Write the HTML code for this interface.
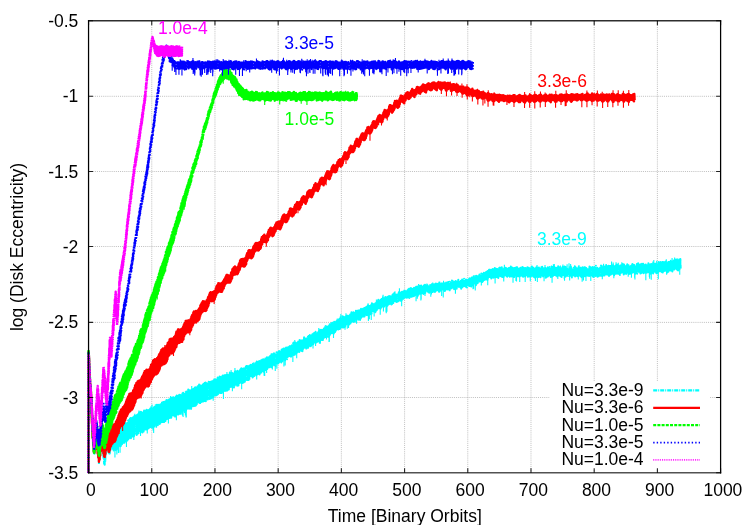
<!DOCTYPE html>
<html><head><meta charset="utf-8"><title>Disk Eccentricity</title>
<style>html,body{margin:0;padding:0;background:#fff;width:750px;height:525px;overflow:hidden;font-family:"Liberation Sans",sans-serif}</style>
</head><body>
<svg width="750" height="525" viewBox="0 0 750 525" style="position:absolute;left:0;top:0;will-change:transform">
<rect width="750" height="525" fill="#fff"/>
<path d="M151.75 20.75V472.80M214.96 20.75V472.80M278.17 20.75V472.80M341.37 20.75V472.80M404.58 20.75V472.80M467.78 20.75V472.80M530.99 20.75V472.80M594.19 20.75V472.80M657.40 20.75V472.80M88.55 96.30H720.60M88.55 171.50H720.60M88.55 246.50H720.60M88.55 322.40H720.60M88.55 397.50H720.60" stroke="#909090" stroke-width="1" stroke-dasharray="1 1.1" fill="none" opacity="0.58"/>
<g fill="none" stroke-linejoin="round" stroke-linecap="butt" clip-path="url(#cp)">
<clipPath id="cp"><rect x="86.5" y="20.8" width="635.1" height="452.1"/></clipPath>
<path d="M88.45 476.00L88.55 353.00L89.02 358.75L89.34 367.36L89.66 371.91L89.98 382.78L90.30 383.19L90.62 395.01L90.94 391.40L91.26 405.18L91.58 400.99L91.90 421.37L92.22 413.57L92.54 435.49L92.86 423.97L93.18 445.43L93.50 432.13L93.82 453.22L94.14 436.86L94.46 453.66L94.78 435.24L95.10 450.60L95.42 431.60L95.74 448.51L96.06 429.00L96.38 445.72L96.70 428.52L97.02 449.00L97.34 432.59L97.66 452.31L97.98 438.57L98.30 458.22L98.62 443.88L98.94 464.33L99.26 443.68L99.58 460.50L99.90 439.69L100.22 455.82L100.54 435.96L100.86 450.84L101.18 431.27L101.50 448.02L101.82 430.89L102.14 450.95L102.46 434.76L102.78 453.53L103.10 437.87L103.42 458.90L103.74 442.20L104.06 463.71L104.38 447.48L104.70 464.76L105.02 443.60L105.34 461.07L105.66 439.48L105.98 454.43L106.30 435.19L106.62 450.42L106.94 429.42L107.26 448.61L107.58 431.12L107.90 451.00L108.22 432.76L108.54 452.57L108.86 436.50L109.18 453.52L109.50 435.74L109.82 453.41L110.14 433.13L110.46 449.88L110.78 432.68L111.10 448.09L111.42 430.25L111.74 448.51L112.06 431.19L112.38 448.66L112.70 431.60L113.02 448.86L113.34 430.89L113.66 450.38L113.98 431.62L114.30 450.75L114.62 431.76L114.94 449.03L115.26 432.25L115.58 449.90L115.90 432.39L116.22 448.74L116.54 430.61L116.86 449.42L117.18 430.58L117.50 447.98L117.82 429.75L118.14 445.88L118.46 429.19L118.78 445.46L119.10 428.76L119.42 444.92L119.74 426.84L120.06 446.30L120.38 426.85L120.70 446.34L121.02 427.15L121.34 444.77L121.66 428.14L121.98 444.35L122.30 426.31L122.62 444.33L122.94 425.67L123.26 441.93L123.58 423.87L123.90 442.76L124.22 423.23L124.54 442.65L124.86 424.35L125.18 441.17L125.50 422.73L125.82 441.36L126.14 423.44L126.46 440.88L126.78 423.41L127.10 441.61L127.42 422.95L127.74 439.63L128.06 420.42L128.38 439.14L128.70 421.10L129.02 438.19L129.34 419.63L129.66 437.83L129.98 418.54L130.30 436.39L130.62 419.56L130.94 438.26L131.26 418.39L131.58 436.32L131.90 418.12L132.22 436.62L132.54 418.68L132.86 435.79L133.18 417.14L133.50 436.43L133.82 417.87L134.14 435.86L134.46 416.09L134.78 433.85L135.10 415.93L135.42 433.55L135.74 416.18L136.06 433.51L136.38 415.36L136.70 434.98L137.02 416.57L137.34 434.00L137.66 414.49L137.98 433.25L138.30 414.00L138.62 433.28L138.94 412.99L139.26 432.25L139.58 412.32L139.90 431.90L140.22 412.73L140.54 431.44L140.86 411.83L141.18 430.97L141.50 412.11L141.82 432.06L142.14 413.16L142.46 432.42L142.78 412.87L143.10 431.12L143.42 412.22L143.74 431.39L144.06 410.45L144.38 429.29L144.70 410.78L145.02 428.45L145.34 409.28L145.66 429.51L145.98 409.86L146.30 429.45L146.62 409.72L146.94 429.53L147.26 411.42L147.58 428.52L147.90 410.29L148.22 428.60L148.54 410.57L148.86 427.99L149.18 409.79L149.50 427.76L149.82 409.16L150.14 427.15L150.46 407.55L150.78 426.45L151.10 407.16L151.42 426.83L151.74 407.98L152.06 427.79L152.38 409.23L152.70 427.29L153.02 408.75L153.34 426.57L153.66 407.40L153.98 426.49L154.30 407.09L154.62 426.39L154.94 406.83L155.26 425.05L155.58 405.33L155.90 424.35L156.22 405.07L156.54 424.14L156.86 404.69L157.18 424.96L157.50 406.35L157.82 425.30L158.14 404.72L158.46 423.22L158.78 404.98L159.10 422.77L159.42 404.50L159.74 424.00L160.06 404.50L160.38 423.05L160.70 404.35L161.02 421.72L161.34 403.00L161.66 422.08L161.98 402.57L162.30 420.97L162.62 402.25L162.94 421.89L163.26 402.10L163.58 420.63L163.90 402.61L164.22 422.10L164.54 401.70L164.86 420.72L165.18 401.66L165.50 420.96L165.82 401.14L166.14 419.57L166.46 400.00L166.78 418.72L167.10 399.42L167.42 419.91L167.74 400.35L168.06 418.21L168.38 399.69L168.70 419.39L169.02 400.77L169.34 417.93L169.66 399.22L169.98 417.79L170.30 398.82L170.62 418.35L170.94 398.04L171.26 417.80L171.58 398.33L171.90 415.75L172.22 397.59L172.54 416.42L172.86 397.73L173.18 415.52L173.50 397.19L173.82 415.47L174.14 397.03L174.46 415.99L174.78 398.63L175.10 416.61L175.42 396.39L175.74 414.73L176.06 395.60L176.38 414.05L176.70 395.44L177.02 414.04L177.34 395.03L177.66 414.45L177.98 395.72L178.30 414.51L178.62 395.53L178.94 413.92L179.26 394.84L179.58 414.57L179.90 395.97L180.22 413.70L180.54 395.04L180.86 413.86L181.18 394.55L181.50 411.89L181.82 394.14L182.14 410.57L182.46 392.25L182.78 410.18L183.10 392.63L183.42 411.19L183.74 393.71L184.06 411.49L184.38 393.98L184.70 412.29L185.02 394.09L185.34 411.56L185.66 391.91L185.98 410.48L186.30 391.50L186.62 409.78L186.94 392.15L187.26 408.61L187.58 391.46L187.90 409.61L188.22 389.46L188.54 408.38L188.86 391.10L189.18 408.74L189.50 390.17L189.82 409.68L190.14 390.56L190.46 408.22L190.78 389.23L191.10 408.87L191.42 389.88L191.74 407.46L192.06 389.80L192.38 406.31L192.70 389.35L193.02 406.24L193.34 387.80L193.66 405.60L193.98 388.84L194.30 406.10L194.62 387.76L194.94 406.19L195.26 387.13L195.58 405.73L195.90 387.86L196.22 404.87L196.54 387.69L196.86 405.05L197.18 387.12L197.50 404.09L197.82 385.54L198.14 402.52L198.46 385.65L198.78 402.14L199.10 384.42L199.42 402.21L199.74 386.38L200.06 404.32L200.38 385.46L200.70 403.42L201.02 385.62L201.34 403.03L201.66 384.18L201.98 401.69L202.30 384.53L202.62 401.10L202.94 384.61L203.26 401.39L203.58 383.80L203.90 400.07L204.22 383.15L204.54 400.89L204.86 382.67L205.18 401.07L205.50 382.56L205.82 401.19L206.14 383.22L206.46 399.73L206.78 383.18L207.10 398.82L207.42 382.24L207.74 399.55L208.06 381.94L208.38 398.85L208.70 381.68L209.02 398.86L209.34 381.94L209.66 398.93L209.98 382.02L210.30 397.09L210.62 381.53L210.94 398.60L211.26 381.56L211.58 397.12L211.90 381.45L212.22 397.77L212.54 381.54L212.86 396.15L213.18 380.85L213.50 396.77L213.82 379.10L214.14 394.97L214.46 378.31L214.78 394.47L215.10 379.19L215.42 395.58L215.74 379.93L216.06 394.68L216.38 380.15L216.70 395.32L217.02 379.23L217.34 395.37L217.66 377.59L217.98 394.30L218.30 378.53L218.62 393.26L218.94 378.11L219.26 392.35L219.58 376.48L219.90 393.10L220.22 376.73L220.54 393.06L220.86 377.92L221.18 393.86L221.50 377.61L221.82 392.95L222.14 376.28L222.46 391.88L222.78 375.62L223.10 391.87L223.42 376.93L223.74 392.14L224.06 376.16L224.38 390.59L224.70 374.01L225.02 390.99L225.34 375.45L225.66 390.61L225.98 374.95L226.30 390.10L226.62 375.75L226.94 390.79L227.26 374.76L227.58 390.49L227.90 374.05L228.22 389.77L228.54 375.44L228.86 389.48L229.18 374.42L229.50 387.22L229.82 372.48L230.14 386.92L230.46 374.20L230.78 386.51L231.10 373.11L231.42 386.68L231.74 372.75L232.06 387.60L232.38 373.03L232.70 387.16L233.02 373.57L233.34 386.92L233.66 373.55L233.98 387.57L234.30 373.03L234.62 385.81L234.94 370.91L235.26 385.69L235.58 371.22L235.90 383.83L236.22 371.46L236.54 383.90L236.86 371.45L237.18 385.77L237.50 370.69L237.82 385.30L238.14 371.93L238.46 385.42L238.78 371.50L239.10 383.05L239.42 371.08L239.74 382.95L240.06 369.96L240.38 382.04L240.70 369.07L241.02 382.47L241.34 368.31L241.66 383.05L241.98 369.22L242.30 382.89L242.62 369.68L242.94 382.69L243.26 368.54L243.58 382.42L243.90 369.15L244.22 380.75L244.54 367.32L244.86 381.80L245.18 368.03L245.50 379.20L245.82 366.46L246.14 379.05L246.46 366.04L246.78 380.05L247.10 365.96L247.42 380.08L247.74 367.38L248.06 379.19L248.38 366.22L248.70 379.98L249.02 367.62L249.34 379.94L249.66 365.48L249.98 377.15L250.30 365.81L250.62 377.27L250.94 364.83L251.26 376.03L251.58 365.39L251.90 375.65L252.22 365.38L252.54 377.50L252.86 363.74L253.18 376.65L253.50 364.10L253.82 376.40L254.14 365.00L254.46 376.06L254.78 363.37L255.10 375.29L255.42 363.31L255.74 374.85L256.06 363.13L256.38 375.03L256.70 361.40L257.02 374.06L257.34 361.10L257.66 374.29L257.98 362.27L258.30 373.23L258.62 361.45L258.94 373.71L259.26 361.03L259.58 374.55L259.90 362.44L260.22 372.90L260.54 360.98L260.86 371.81L261.18 360.36L261.50 372.39L261.82 360.25L262.14 371.15L262.46 359.46L262.78 370.75L263.10 359.43L263.42 370.26L263.74 359.25L264.06 371.99L264.38 360.19L264.70 369.94L265.02 358.79L265.34 370.83L265.66 357.37L265.98 369.91L266.30 358.26L266.62 369.83L266.94 357.28L267.26 368.90L267.58 357.41L267.90 367.60L268.22 357.62L268.54 367.19L268.86 356.06L269.18 367.36L269.50 355.84L269.82 368.01L270.14 355.89L270.46 366.89L270.78 355.18L271.10 367.34L271.42 354.21L271.74 367.17L272.06 353.82L272.38 366.08L272.70 353.13L273.02 364.74L273.34 354.63L273.66 364.60L273.98 353.30L274.30 365.09L274.62 353.94L274.94 365.14L275.26 354.58L275.58 365.92L275.90 354.27L276.22 364.93L276.54 352.25L276.86 363.57L277.18 352.83L277.50 362.69L277.82 351.89L278.14 363.40L278.46 351.84L278.78 362.83L279.10 350.90L279.42 362.05L279.74 352.37L280.06 362.64L280.38 350.71L280.70 361.26L281.02 351.16L281.34 362.57L281.66 349.53L281.98 361.48L282.30 349.37L282.62 361.08L282.94 348.51L283.26 360.30L283.58 348.41L283.90 359.24L284.22 349.32L284.54 360.38L284.86 348.32L285.18 360.23L285.50 348.00L285.82 359.56L286.14 347.62L286.46 358.53L286.78 348.86L287.10 359.28L287.42 347.45L287.74 357.64L288.06 346.20L288.38 356.55L288.70 346.90L289.02 357.28L289.34 346.62L289.66 356.63L289.98 346.01L290.30 355.99L290.62 346.19L290.94 357.44L291.26 345.15L291.58 356.20L291.90 345.31L292.22 354.60L292.54 343.74L292.86 354.29L293.18 343.10L293.50 355.05L293.82 342.60L294.14 354.36L294.46 343.50L294.78 354.68L295.10 342.69L295.42 353.24L295.74 343.21L296.06 353.44L296.38 344.07L296.70 353.85L297.02 342.86L297.34 352.80L297.66 343.46L297.98 351.63L298.30 340.65L298.62 352.08L298.94 341.94L299.26 351.97L299.58 339.91L299.90 351.93L300.22 341.12L300.54 351.07L300.86 340.56L301.18 351.53L301.50 339.97L301.82 351.00L302.14 340.34L302.46 351.25L302.78 339.57L303.10 348.87L303.42 339.76L303.74 349.17L304.06 337.78L304.38 347.57L304.70 338.54L305.02 348.70L305.34 338.41L305.66 348.68L305.98 338.99L306.30 348.61L306.62 337.97L306.94 347.70L307.26 337.71L307.58 346.86L307.90 336.85L308.22 347.77L308.54 335.97L308.86 346.23L309.18 336.37L309.50 346.03L309.82 335.03L310.14 345.77L310.46 334.51L310.78 346.29L311.10 334.99L311.42 346.09L311.74 335.23L312.06 345.59L312.38 334.25L312.70 344.09L313.02 335.01L313.34 343.94L313.66 333.25L313.98 342.69L314.30 333.23L314.62 342.16L314.94 332.86L315.26 342.09L315.58 331.80L315.90 342.79L316.22 332.58L316.54 341.78L316.86 333.67L317.18 342.96L317.50 332.91L317.82 341.20L318.14 332.31L318.46 340.73L318.78 331.23L319.10 341.24L319.42 330.91L319.74 340.83L320.06 329.78L320.38 338.93L320.70 329.63L321.02 339.74L321.34 328.89L321.66 340.03L321.98 329.77L322.30 338.73L322.62 330.46L322.94 340.02L323.26 330.01L323.58 338.11L323.90 328.55L324.22 338.24L324.54 328.62L324.86 337.30L325.18 326.52L325.50 337.30L325.82 325.92L326.14 336.93L326.46 327.50L326.78 335.90L327.10 326.93L327.42 336.03L327.74 326.57L328.06 336.96L328.38 326.20L328.70 336.50L329.02 325.78L329.34 335.74L329.66 324.33L329.98 334.84L330.30 324.40L330.62 332.73L330.94 324.03L331.26 332.42L331.58 322.90L331.90 333.36L332.22 322.67L332.54 333.87L332.86 323.16L333.18 332.66L333.50 323.73L333.82 333.42L334.14 321.73L334.46 331.59L334.78 322.92L335.10 331.89L335.42 322.16L335.74 330.66L336.06 321.51L336.38 329.63L336.70 320.93L337.02 329.36L337.34 319.45L337.66 330.22L337.98 320.60L338.30 329.43L338.62 321.03L338.94 329.02L339.26 318.94L339.58 329.03L339.90 318.68L340.22 328.76L340.54 317.13L340.86 327.16L341.18 318.56L341.50 326.36L341.82 318.16L342.14 327.15L342.46 316.37L342.78 327.39L343.10 316.50L343.42 327.46L343.74 316.81L344.06 326.54L344.38 316.35L344.70 327.01L345.02 316.71L345.34 325.88L345.66 315.89L345.98 325.17L346.30 315.98L346.62 324.35L346.94 315.38L347.26 323.87L347.58 315.73L347.90 323.67L348.22 315.92L348.54 324.53L348.86 315.02L349.18 324.53L349.50 314.73L349.82 323.40L350.14 314.50L350.46 323.40L350.78 313.67L351.10 322.03L351.42 312.30L351.74 321.60L352.06 312.55L352.38 321.07L352.70 312.70L353.02 321.66L353.34 312.19L353.66 322.38L353.98 313.41L354.30 321.66L354.62 313.00L354.94 321.49L355.26 312.44L355.58 320.55L355.90 310.67L356.22 319.14L356.54 311.24L356.86 319.55L357.18 310.93L357.50 318.82L357.82 309.15L358.14 319.82L358.46 309.91L358.78 319.14L359.10 310.15L359.42 318.52L359.74 309.48L360.06 319.94L360.38 310.32L360.70 318.57L361.02 308.81L361.34 317.36L361.66 309.32L361.98 317.36L362.30 308.17L362.62 316.41L362.94 308.87L363.26 316.53L363.58 307.47L363.90 316.44L364.22 308.04L364.54 316.45L364.86 307.84L365.18 315.59L365.50 307.44L365.82 315.09L366.14 307.05L366.46 314.88L366.78 306.71L367.10 315.29L367.42 305.27L367.74 313.64L368.06 305.17L368.38 314.06L368.70 304.93L369.02 314.30L369.34 306.47L369.66 312.71L369.98 305.99L370.30 314.17L370.62 306.34L370.94 312.42L371.26 304.78L371.58 313.62L371.90 303.37L372.22 312.60L372.54 303.87L372.86 310.72L373.18 303.98L373.50 310.45L373.82 303.68L374.14 311.42L374.46 303.77L374.78 311.60L375.10 303.57L375.42 312.14L375.74 302.84L376.06 310.79L376.38 302.54L376.70 310.24L377.02 301.74L377.34 309.04L377.66 300.23L377.98 309.52L378.30 299.78L378.62 308.24L378.94 300.40L379.26 307.73L379.58 300.62L379.90 307.98L380.22 301.30L380.54 308.82L380.86 299.82L381.18 307.52L381.50 299.01L381.82 307.52L382.14 299.37L382.46 307.43L382.78 297.96L383.10 306.70L383.42 298.90L383.74 306.19L384.06 297.36L384.38 306.50L384.70 296.89L385.02 306.00L385.34 297.00L385.66 306.60L385.98 298.93L386.30 305.18L386.62 298.66L386.94 306.75L387.26 296.92L387.58 305.48L387.90 296.50L388.22 305.37L388.54 296.32L388.86 304.10L389.18 296.08L389.50 304.75L389.82 295.81L390.14 303.79L390.46 296.29L390.78 303.40L391.10 297.02L391.42 304.48L391.74 296.97L392.06 304.03L392.38 294.92L392.70 302.38L393.02 294.18L393.34 302.97L393.66 294.48L393.98 301.11L394.30 293.02L394.62 300.83L394.94 294.65L395.26 301.23L395.58 294.65L395.90 301.52L396.22 294.69L396.54 301.89L396.86 294.62L397.18 301.82L397.50 294.69L397.82 301.55L398.14 294.23L398.46 300.95L398.78 292.28L399.10 299.72L399.42 292.71L399.74 299.21L400.06 291.93L400.38 300.64L400.70 292.43L401.02 300.26L401.34 292.81L401.66 300.43L401.98 291.86L402.30 299.44L402.62 292.91L402.94 298.86L403.26 291.38L403.58 298.65L403.90 291.29L404.22 297.63L404.54 289.48L404.86 297.56L405.18 291.08L405.50 297.26L405.82 290.12L406.14 297.44L406.46 291.29L406.78 299.04L407.10 290.17L407.42 297.74L407.74 289.88L408.06 297.21L408.38 289.32L408.70 296.84L409.02 288.86L409.34 297.90L409.66 288.68L409.98 296.34L410.30 289.44L410.62 296.76L410.94 288.05L411.26 295.19L411.58 289.15L411.90 296.72L412.22 289.01L412.54 295.57L412.86 289.20L413.18 296.12L413.50 287.87L413.82 296.32L414.14 287.70L414.46 295.54L414.78 287.95L415.10 295.12L415.42 288.16L415.74 294.26L416.06 286.80L416.38 294.44L416.70 288.17L417.02 293.78L417.34 286.53L417.66 296.00L417.98 286.99L418.30 295.48L418.62 287.97L418.94 294.86L419.26 287.38L419.58 294.33L419.90 285.69L420.22 293.85L420.54 286.91L420.86 293.60L421.18 285.62L421.50 293.05L421.82 285.83L422.14 292.47L422.46 286.79L422.78 293.29L423.10 286.45L423.42 293.88L423.74 285.49L424.06 292.94L424.38 285.06L424.70 293.16L425.02 284.87L425.34 292.66L425.66 285.45L425.98 291.12L426.30 284.76L426.62 292.03L426.94 284.53L427.26 291.15L427.58 285.31L427.90 291.80L428.22 286.13L428.54 291.91L428.86 286.46L429.18 292.67L429.50 286.24L429.82 293.12L430.14 285.02L430.46 291.27L430.78 285.28L431.10 291.08L431.42 284.01L431.74 292.01L432.06 283.73L432.38 292.11L432.70 283.57L433.02 291.73L433.34 284.99L433.66 292.73L433.98 285.73L434.30 290.84L434.62 284.29L434.94 292.04L435.26 284.57L435.58 292.10L435.90 283.38L436.22 290.29L436.54 284.00L436.86 290.02L437.18 282.53L437.50 290.09L437.82 284.19L438.14 290.32L438.46 283.61L438.78 291.62L439.10 284.78L439.42 291.69L439.74 283.94L440.06 291.39L440.38 284.30L440.70 289.79L441.02 283.51L441.34 289.14L441.66 283.88L441.98 289.77L442.30 281.97L442.62 289.45L442.94 283.04L443.26 288.87L443.58 283.42L443.90 289.61L444.22 283.20L444.54 291.07L444.86 283.97L445.18 290.81L445.50 282.24L445.82 288.93L446.14 282.52L446.46 289.33L446.78 282.90L447.10 287.83L447.42 282.98L447.74 289.47L448.06 282.01L448.38 289.44L448.70 282.56L449.02 288.73L449.34 281.65L449.66 290.36L449.98 283.45L450.30 289.93L450.62 282.18L450.94 288.59L451.26 282.28L451.58 288.35L451.90 280.62L452.22 287.35L452.54 280.63L452.86 287.51L453.18 281.07L453.50 287.20L453.82 281.98L454.14 289.18L454.46 281.78L454.78 289.01L455.10 282.72L455.42 288.12L455.74 281.08L456.06 288.12L456.38 282.45L456.70 288.80L457.02 281.86L457.34 287.73L457.66 280.73L457.98 286.88L458.30 279.64L458.62 286.97L458.94 281.41L459.26 286.43L459.58 281.02L459.90 287.07L460.22 282.09L460.54 287.48L460.86 280.87L461.18 288.76L461.50 280.41L461.82 286.44L462.14 279.60L462.46 287.27L462.78 280.53L463.10 286.17L463.42 280.51L463.74 285.74L464.06 278.74L464.38 286.07L464.70 279.91L465.02 286.48L465.34 279.32L465.66 286.79L465.98 279.55L466.30 286.47L466.62 279.96L466.94 287.57L467.26 280.00L467.58 285.63L467.90 279.27L468.22 285.30L468.54 279.13L468.86 285.65L469.18 279.25L469.50 285.88L469.82 278.14L470.14 286.02L470.46 279.75L470.78 284.98L471.10 278.30L471.42 286.62L471.74 277.60L472.06 286.30L472.38 278.61L472.70 284.07L473.02 277.19L473.34 284.30L473.66 276.19L473.98 284.48L474.30 276.95L474.62 282.87L474.94 276.15L475.26 283.96L475.58 277.21L475.90 285.17L476.22 275.84L476.54 284.89L476.86 277.62L477.18 283.19L477.50 275.06L477.82 282.86L478.14 274.77L478.46 281.80L478.78 274.96L479.10 281.45L479.42 274.54L479.74 281.52L480.06 274.06L480.38 281.04L480.70 274.89L481.02 281.36L481.34 273.39L481.66 282.07L481.98 273.91L482.30 282.00L482.62 273.43L482.94 281.17L483.26 273.54L483.58 279.90L483.90 272.82L484.22 279.95L484.54 271.86L484.86 278.35L485.18 272.29L485.50 279.62L485.82 272.30L486.14 280.13L486.46 271.83L486.78 279.07L487.10 272.39L487.42 279.84L487.74 270.98L488.06 277.90L488.38 270.94L488.70 277.18L489.02 269.82L489.34 276.89L489.66 269.63L489.98 277.07L490.30 269.03L490.62 277.06L490.94 268.93L491.26 278.53L491.58 268.68L491.90 277.09L492.22 270.61L492.54 277.34L492.86 268.94L493.18 277.71L493.50 269.69L493.82 277.61L494.14 267.85L494.46 276.47L494.78 267.94L495.10 277.20L495.42 268.37L495.74 277.13L496.06 268.64L496.38 277.37L496.70 268.42L497.02 277.01L497.34 269.10L497.66 277.27L497.98 268.78L498.30 278.08L498.62 269.73L498.94 276.56L499.26 267.85L499.58 275.07L499.90 267.54L500.22 275.28L500.54 268.17L500.86 276.28L501.18 268.28L501.50 276.05L501.82 267.30L502.14 276.93L502.46 268.15L502.78 276.75L503.10 269.62L503.42 277.19L503.74 267.84L504.06 275.42L504.38 267.08L504.70 275.42L505.02 267.94L505.34 274.33L505.66 267.65L505.98 274.47L506.30 267.96L506.62 276.31L506.94 268.55L507.26 276.76L507.58 267.92L507.90 276.01L508.22 268.71L508.54 275.85L508.86 268.00L509.18 275.24L509.50 267.98L509.82 276.76L510.14 268.32L510.46 275.98L510.78 266.46L511.10 274.40L511.42 267.49L511.74 276.47L512.06 267.51L512.38 275.78L512.70 268.01L513.02 275.75L513.34 268.23L513.66 277.07L513.98 268.03L514.30 276.97L514.62 267.98L514.94 275.07L515.26 267.88L515.58 276.38L515.90 267.41L516.22 275.40L516.54 267.13L516.86 274.35L517.18 267.20L517.50 276.30L517.82 268.61L518.14 276.31L518.46 269.52L518.78 276.14L519.10 267.65L519.42 276.56L519.74 268.57L520.06 275.42L520.38 267.68L520.70 275.77L521.02 268.42L521.34 274.93L521.66 268.20L521.98 275.59L522.30 266.96L522.62 276.57L522.94 267.26L523.26 276.64L523.58 269.10L523.90 276.55L524.22 267.91L524.54 275.54L524.86 268.13L525.18 276.51L525.50 268.00L525.82 275.19L526.14 268.21L526.46 274.59L526.78 267.46L527.10 275.86L527.42 267.33L527.74 276.73L528.06 268.49L528.38 276.32L528.70 267.65L529.02 276.62L529.34 269.59L529.66 275.93L529.98 268.46L530.30 276.02L530.62 268.73L530.94 276.30L531.26 267.28L531.58 275.25L531.90 266.48L532.22 275.86L532.54 268.34L532.86 275.03L533.18 266.76L533.50 276.69L533.82 268.45L534.14 277.38L534.46 268.46L534.78 277.43L535.10 268.47L535.42 276.52L535.74 269.26L536.06 277.04L536.38 267.20L536.70 275.28L537.02 267.86L537.34 276.04L537.66 266.46L537.98 276.63L538.30 267.07L538.62 277.07L538.94 267.54L539.26 275.96L539.58 269.12L539.90 276.42L540.22 267.67L540.54 277.32L540.86 268.17L541.18 276.54L541.50 266.98L541.82 276.78L542.14 266.73L542.46 274.71L542.78 268.33L543.10 276.46L543.42 267.02L543.74 276.21L544.06 268.83L544.38 275.16L544.70 268.92L545.02 275.66L545.34 268.11L545.66 277.69L545.98 267.44L546.30 277.34L546.62 268.80L546.94 275.06L547.26 267.92L547.58 276.60L547.90 267.21L548.22 275.92L548.54 267.59L548.86 274.57L549.18 267.50L549.50 275.04L549.82 266.99L550.14 275.69L550.46 267.51L550.78 277.02L551.10 267.34L551.42 276.86L551.74 267.92L552.06 275.28L552.38 267.12L552.70 276.27L553.02 267.09L553.34 275.40L553.66 266.22L553.98 275.81L554.30 266.65L554.62 274.92L554.94 267.76L555.26 275.30L555.58 269.26L555.90 275.52L556.22 267.72L556.54 276.27L556.86 268.14L557.18 276.54L557.50 267.68L557.82 275.40L558.14 266.26L558.46 275.41L558.78 267.34L559.10 274.76L559.42 267.18L559.74 276.32L560.06 268.70L560.38 276.12L560.70 269.15L561.02 276.52L561.34 268.28L561.66 276.91L561.98 267.96L562.30 275.47L562.62 266.73L562.94 275.28L563.26 266.88L563.58 276.04L563.90 266.96L564.22 274.77L564.54 266.56L564.86 275.34L565.18 267.70L565.50 276.76L565.82 267.00L566.14 276.75L566.46 269.24L566.78 276.46L567.10 268.89L567.42 275.87L567.74 268.96L568.06 275.09L568.38 268.29L568.70 275.10L569.02 268.14L569.34 276.18L569.66 267.25L569.98 274.70L570.30 266.88L570.62 276.72L570.94 267.11L571.26 275.85L571.58 268.94L571.90 277.43L572.22 269.12L572.54 275.95L572.86 268.34L573.18 275.32L573.50 267.88L573.82 275.58L574.14 268.04L574.46 275.57L574.78 266.32L575.10 276.41L575.42 266.88L575.74 275.85L576.06 266.97L576.38 275.83L576.70 268.50L577.02 275.66L577.34 268.50L577.66 276.21L577.98 268.18L578.30 275.38L578.62 267.06L578.94 275.33L579.26 267.06L579.58 275.34L579.90 267.63L580.22 276.07L580.54 267.81L580.86 276.08L581.18 268.13L581.50 277.15L581.82 268.23L582.14 276.16L582.46 267.36L582.78 276.35L583.10 267.41L583.42 275.90L583.74 267.92L584.06 275.61L584.38 267.22L584.70 276.19L585.02 266.57L585.34 276.29L585.66 268.16L585.98 275.83L586.30 267.98L586.62 276.04L586.94 268.68L587.26 275.49L587.58 268.26L587.90 275.79L588.22 267.97L588.54 275.37L588.86 269.03L589.18 276.01L589.50 266.48L589.82 275.68L590.14 266.13L590.46 274.94L590.78 267.30L591.10 275.34L591.42 268.33L591.74 275.56L592.06 267.25L592.38 276.21L592.70 267.11L593.02 276.61L593.34 267.56L593.66 277.02L593.98 268.58L594.30 275.36L594.62 267.01L594.94 276.20L595.26 267.65L595.58 276.01L595.90 265.84L596.22 274.23L596.54 267.24L596.86 274.69L597.18 267.66L597.50 276.83L597.82 268.60L598.14 275.12L598.46 268.83L598.78 276.20L599.10 268.38L599.42 276.50L599.74 268.17L600.06 274.81L600.38 266.68L600.70 275.81L601.02 265.61L601.34 273.87L601.66 265.74L601.98 275.71L602.30 265.83L602.62 276.07L602.94 267.84L603.26 274.76L603.58 267.02L603.90 275.71L604.22 266.48L604.54 275.46L604.86 267.66L605.18 274.67L605.50 265.85L605.82 273.63L606.14 265.02L606.46 274.38L606.78 266.28L607.10 273.70L607.42 266.36L607.74 273.47L608.06 266.02L608.38 275.21L608.70 265.83L609.02 275.95L609.34 266.08L609.66 275.27L609.98 266.02L610.30 273.29L610.62 266.43L610.94 274.54L611.26 264.60L611.58 273.70L611.90 265.14L612.22 273.64L612.54 265.13L612.86 272.96L613.18 265.34L613.50 273.82L613.82 266.08L614.14 275.18L614.46 267.07L614.78 274.51L615.10 266.79L615.42 275.09L615.74 265.45L616.06 274.47L616.38 266.23L616.70 273.51L617.02 264.51L617.34 272.14L617.66 265.22L617.98 273.64L618.30 266.40L618.62 273.38L618.94 266.53L619.26 273.68L619.58 265.91L619.90 274.91L620.22 265.41L620.54 272.99L620.86 265.58L621.18 272.78L621.50 264.27L621.82 272.37L622.14 265.02L622.46 272.74L622.78 263.88L623.10 272.77L623.42 265.46L623.74 274.42L624.06 264.56L624.38 273.12L624.70 266.12L625.02 274.35L625.34 266.50L625.66 274.56L625.98 266.33L626.30 273.84L626.62 265.41L626.94 272.32L627.26 264.27L627.58 272.83L627.90 265.19L628.22 273.67L628.54 265.15L628.86 273.88L629.18 265.87L629.50 272.99L629.82 265.68L630.14 273.67L630.46 265.50L630.78 273.44L631.10 265.65L631.42 273.27L631.74 265.20L632.06 273.77L632.38 263.94L632.70 271.69L633.02 264.39L633.34 271.73L633.66 265.00L633.98 272.37L634.30 265.01L634.62 272.62L634.94 266.14L635.26 273.78L635.58 266.04L635.90 272.82L636.22 265.20L636.54 274.02L636.86 263.95L637.18 273.74L637.50 264.47L637.82 271.41L638.14 263.32L638.46 271.69L638.78 264.34L639.10 273.00L639.42 264.35L639.74 272.08L640.06 265.20L640.38 273.43L640.70 264.33L641.02 273.23L641.34 265.10L641.66 272.67L641.98 263.79L642.30 272.07L642.62 263.94L642.94 271.48L643.26 263.75L643.58 273.17L643.90 264.83L644.22 272.50L644.54 264.39L644.86 273.36L645.18 264.93L645.50 272.44L645.82 264.46L646.14 272.40L646.46 265.34L646.78 272.68L647.10 264.30L647.42 272.74L647.74 265.01L648.06 271.46L648.38 263.27L648.70 272.16L649.02 263.78L649.34 272.27L649.66 264.01L649.98 272.98L650.30 264.28L650.62 273.77L650.94 264.34L651.26 272.32L651.58 264.02L651.90 272.76L652.22 265.48L652.54 271.83L652.86 263.04L653.18 273.44L653.50 263.09L653.82 271.99L654.14 264.21L654.46 271.12L654.78 263.81L655.10 271.41L655.42 262.76L655.74 272.03L656.06 263.80L656.38 273.24L656.70 264.31L657.02 273.25L657.34 265.02L657.66 272.19L657.98 264.02L658.30 272.59L658.62 261.91L658.94 271.35L659.26 261.88L659.58 270.76L659.90 262.88L660.22 270.98L660.54 261.89L660.86 271.02L661.18 263.48L661.50 271.86L661.82 262.37L662.14 272.22L662.46 262.11L662.78 272.47L663.10 262.03L663.42 270.59L663.74 262.51L664.06 270.94L664.38 262.16L664.70 271.20L665.02 262.39L665.34 270.73L665.66 261.51L665.98 270.59L666.30 262.21L666.62 270.40L666.94 263.17L667.26 272.40L667.58 262.33L667.90 271.99L668.22 261.93L668.54 271.50L668.86 262.02L669.18 270.56L669.50 261.45L669.82 269.24L670.14 261.75L670.46 270.49L670.78 260.74L671.10 269.03L671.42 262.27L671.74 270.83L672.06 260.89L672.38 271.53L672.70 261.93L673.02 270.25L673.34 260.53L673.66 269.42L673.98 261.64L674.30 269.41L674.62 260.27L674.94 268.49L675.26 259.77L675.58 268.42L675.90 259.57L676.22 268.56L676.54 260.37L676.86 269.34L677.18 260.05L677.50 269.99L677.82 261.48L678.14 270.54L678.46 260.89L678.78 269.35L679.10 259.60L679.42 269.16L679.74 258.80L680.06 268.01L680.38 258.98L680.70 268.53" stroke="#00ffff" stroke-width="2.0" stroke-dasharray="4 1 1 1"/>
<path d="M114.94 447.10V457.54M116.86 445.57V454.39M118.46 443.18V453.10M119.74 430.61V424.24M120.06 442.63V452.63M126.46 438.23V447.00M130.62 422.29V416.96M133.82 432.24V440.09M134.78 418.97V413.69M138.94 416.59V410.62M140.54 428.15V436.00M147.26 426.24V433.51M152.06 411.23V404.45M153.02 423.86V430.58M153.66 423.52V432.95M156.22 421.12V427.64M156.54 421.07V427.78M168.38 416.02V423.45M170.62 402.05V396.07M176.38 411.44V420.26M182.46 408.27V415.65M183.10 408.12V417.12M185.34 408.03V415.43M185.98 407.44V417.41M186.30 407.07V417.52M191.74 392.21V386.07M213.18 393.75V400.82M223.42 389.25V399.11M226.94 377.57V372.05M231.10 375.42V370.10M232.38 385.57V391.31M234.94 373.78V368.03M241.66 380.19V389.37M253.82 366.35V362.23M256.70 372.29V379.54M264.06 369.45V375.83M264.70 369.23V376.01M266.62 367.17V372.92M272.38 363.96V369.59M275.26 363.62V370.94M276.86 361.94V368.80M283.90 358.07V366.42M285.18 358.22V365.45M292.86 353.44V362.06M294.78 344.98V340.12M295.10 345.04V341.15M296.70 352.27V358.30M304.06 339.94V336.35M313.02 343.24V348.38M315.58 340.98V345.91M318.78 332.61V328.04M319.42 338.96V343.72M320.38 338.16V343.86M326.46 334.93V339.57M329.02 333.98V341.89M329.34 333.58V341.83M333.50 331.47V338.08M340.86 319.01V313.91M345.02 324.49V329.74M345.98 316.65V313.34M347.26 322.68V328.80M348.54 322.89V327.98M356.54 318.51V323.77M368.06 306.44V303.21M368.38 312.66V321.02M369.34 312.75V319.18M371.26 312.17V320.05M374.14 310.00V316.45M376.38 303.47V299.53M380.22 307.49V314.87M382.78 299.66V295.84M383.10 299.30V294.78M383.42 305.13V311.49M385.98 305.11V312.24M386.30 305.09V313.21M386.94 304.79V311.82M394.94 294.81V291.34M399.42 293.15V288.35M401.66 299.19V306.33M416.06 293.72V301.30M417.34 294.11V298.69M418.62 288.32V283.99M420.86 292.18V300.39M421.18 292.10V299.41M425.02 291.62V295.94M430.78 290.57V296.86M431.42 290.26V294.51M439.10 284.92V281.49M439.74 284.88V281.41M441.66 289.01V295.94M443.26 289.14V297.39M443.58 283.92V280.71M455.42 288.09V293.77M473.02 283.79V289.16M473.66 283.34V288.82M475.26 283.26V290.41M481.34 281.12V285.44M487.74 278.19V285.31M495.10 275.43V283.45M503.74 275.47V281.41M504.38 269.04V264.71M513.02 275.41V282.74M515.90 274.49V281.01M516.54 274.41V281.55M519.74 275.39V281.95M525.18 275.34V282.02M530.30 275.61V281.24M535.42 275.78V281.01M537.02 268.54V264.94M537.34 274.67V282.04M544.06 275.03V281.25M545.02 269.36V264.88M551.42 269.18V265.57M552.06 275.01V282.67M553.34 268.10V264.27M554.30 268.36V263.92M557.82 274.65V279.07M560.38 268.89V265.57M562.94 268.53V264.43M564.22 274.33V279.30M564.54 274.42V280.67M567.10 269.22V264.26M569.02 268.13V263.14M569.66 274.36V280.43M570.62 268.64V263.90M571.26 269.06V265.75M578.30 275.15V279.62M578.94 268.46V264.93M582.14 275.43V281.67M583.42 275.26V280.41M585.98 274.53V280.89M590.78 274.34V280.95M602.30 273.96V279.22M603.58 268.30V263.82M611.58 266.33V261.53M613.18 266.83V262.50M613.82 273.40V278.36M616.06 266.35V262.21M618.30 266.41V262.65M621.82 265.81V262.26M628.22 271.74V276.87M631.42 272.20V277.85M634.62 272.14V277.83M634.94 272.33V279.41M645.82 272.23V280.21M649.34 271.13V277.12M649.66 271.28V278.82M651.26 272.17V279.77M652.86 265.07V261.44M653.82 264.51V260.09M656.70 265.23V260.77M658.30 270.80V279.16M666.30 263.30V259.31M666.62 270.08V274.86M672.06 262.68V258.03M674.62 261.47V257.51M677.18 261.82V258.13M679.74 267.56V274.63" stroke="#00ffff" stroke-width="1.1"/>
<path d="M88.45 476.00L88.55 352.00L89.02 358.32L89.34 368.27L89.66 371.22L89.98 383.14L90.30 383.93L90.62 395.09L90.94 391.72L91.26 407.12L91.58 402.50L91.90 423.31L92.22 415.28L92.54 437.42L92.86 424.30L93.18 444.49L93.50 429.85L93.82 452.06L94.14 434.64L94.46 452.55L94.78 432.82L95.10 449.39L95.42 430.36L95.74 446.73L96.06 428.41L96.38 445.94L96.70 427.86L97.02 448.50L97.34 432.13L97.66 453.52L97.98 437.67L98.30 457.44L98.62 441.35L98.94 461.72L99.26 441.85L99.58 459.47L99.90 438.64L100.22 455.42L100.54 433.87L100.86 450.86L101.18 429.69L101.50 445.98L101.82 429.15L102.14 448.60L102.46 430.85L102.78 449.94L103.10 432.80L103.42 453.13L103.74 435.66L104.06 456.24L104.38 438.92L104.70 456.87L105.02 438.09L105.34 454.66L105.66 435.46L105.98 450.34L106.30 432.00L106.62 447.18L106.94 429.96L107.26 445.93L107.58 431.87L107.90 448.50L108.22 433.13L108.54 451.38L108.86 435.79L109.18 451.93L109.50 433.90L109.82 450.08L110.14 432.20L110.46 447.01L110.78 430.22L111.10 445.94L111.42 427.89L111.74 443.85L112.06 426.78L112.38 443.73L112.70 426.08L113.02 442.23L113.34 424.97L113.66 442.30L113.98 424.33L114.30 441.86L114.62 424.75L114.94 440.75L115.26 423.92L115.58 440.08L115.90 421.84L116.22 437.84L116.54 420.86L116.86 436.36L117.18 419.62L117.50 435.14L117.82 417.84L118.14 433.27L118.46 415.72L118.78 431.41L119.10 414.09L119.42 428.84L119.74 412.31L120.06 427.77L120.38 411.21L120.70 426.08L121.02 409.58L121.34 425.38L121.66 409.21L121.98 425.68L122.30 408.71L122.62 425.29L122.94 407.10L123.26 423.45L123.58 406.84L123.90 423.52L124.22 406.06L124.54 421.32L124.86 405.01L125.18 420.33L125.50 403.51L125.82 418.38L126.14 401.50L126.46 416.53L126.78 399.72L127.10 415.87L127.42 398.63L127.74 414.24L128.06 396.91L128.38 413.05L128.70 395.80L129.02 412.03L129.34 394.03L129.66 410.57L129.98 394.12L130.30 411.18L130.62 393.50L130.94 410.09L131.26 393.37L131.58 409.57L131.90 393.25L132.22 409.52L132.54 392.40L132.86 408.28L133.18 390.35L133.50 406.65L133.82 389.96L134.14 405.24L134.46 388.05L134.78 403.21L135.10 385.42L135.42 402.07L135.74 384.66L136.06 399.40L136.38 382.98L136.70 398.37L137.02 382.72L137.34 398.07L137.66 381.41L137.98 397.68L138.30 380.98L138.62 396.97L138.94 380.92L139.26 397.39L139.58 381.15L139.90 397.13L140.22 380.19L140.54 395.75L140.86 379.61L141.18 395.17L141.50 378.19L141.82 394.02L142.14 376.81L142.46 393.13L142.78 376.01L143.10 390.58L143.42 374.43L143.74 389.66L144.06 372.87L144.38 387.94L144.70 371.09L145.02 387.61L145.34 371.11L145.66 386.82L145.98 370.44L146.30 385.97L146.62 369.62L146.94 386.06L147.26 370.09L147.58 385.26L147.90 370.21L148.22 386.45L148.54 369.60L148.86 386.04L149.18 369.50L149.50 384.29L149.82 368.67L150.14 382.73L150.46 367.02L150.78 382.33L151.10 364.63L151.42 379.92L151.74 364.46L152.06 379.04L152.38 363.08L152.70 377.47L153.02 361.05L153.34 376.57L153.66 359.92L153.98 375.62L154.30 359.64L154.62 374.73L154.94 359.31L155.26 374.58L155.58 359.95L155.90 374.33L156.22 360.11L156.54 374.21L156.86 358.71L157.18 373.64L157.50 358.18L157.82 373.07L158.14 356.84L158.46 371.70L158.78 355.40L159.10 370.62L159.42 354.53L159.74 369.02L160.06 353.16L160.38 366.55L160.70 351.75L161.02 365.62L161.34 350.05L161.66 365.39L161.98 349.38L162.30 363.85L162.62 349.07L162.94 364.04L163.26 348.83L163.58 364.38L163.90 349.04L164.22 363.52L164.54 348.53L164.86 363.71L165.18 347.59L165.50 363.35L165.82 347.54L166.14 362.51L166.46 345.96L166.78 361.25L167.10 345.32L167.42 359.59L167.74 342.93L168.06 356.67L168.38 342.53L168.70 355.74L169.02 341.65L169.34 355.22L169.66 339.35L169.98 353.38L170.30 338.99L170.62 353.33L170.94 339.52L171.26 352.68L171.58 338.66L171.90 353.56L172.22 338.97L172.54 353.14L172.86 339.50L173.18 352.16L173.50 338.04L173.82 351.77L174.14 337.00L174.46 350.55L174.78 336.92L175.10 348.87L175.42 335.47L175.74 347.48L176.06 333.08L176.38 346.98L176.70 331.77L177.02 344.43L177.34 331.22L177.66 343.36L177.98 329.56L178.30 342.97L178.62 329.50L178.94 342.59L179.26 330.06L179.58 342.76L179.90 330.07L180.22 342.33L180.54 330.43L180.86 342.01L181.18 329.16L181.50 341.62L181.82 329.63L182.14 341.86L182.46 328.13L182.78 340.17L183.10 327.00L183.42 339.51L183.74 325.24L184.06 336.37L184.38 323.87L184.70 334.81L185.02 323.00L185.34 334.10L185.66 321.05L185.98 333.12L186.30 321.00L186.62 332.44L186.94 320.90L187.26 332.40L187.58 320.85L187.90 331.57L188.22 320.52L188.54 332.41L188.86 320.39L189.18 332.31L189.50 320.73L189.82 332.00L190.14 320.10L190.46 331.03L190.78 318.61L191.10 330.07L191.42 316.80L191.74 327.32L192.06 315.31L192.38 326.40L192.70 314.58L193.02 325.05L193.34 312.57L193.66 323.17L193.98 311.49L194.30 322.36L194.62 312.16L194.94 322.31L195.26 311.82L195.58 321.25L195.90 311.04L196.22 322.52L196.54 311.11L196.86 321.52L197.18 310.86L197.50 320.98L197.82 311.77L198.14 320.64L198.46 309.71L198.78 320.05L199.10 308.54L199.42 318.97L199.74 308.26L200.06 316.65L200.38 305.36L200.70 314.49L201.02 304.55L201.34 313.15L201.66 303.18L201.98 312.32L202.30 302.18L202.62 311.78L202.94 301.28L203.26 310.53L203.58 301.92L203.90 311.03L204.22 301.52L204.54 310.58L204.86 302.54L205.18 310.73L205.50 301.95L205.82 311.00L206.14 301.56L206.46 310.26L206.78 300.15L207.10 308.11L207.42 299.40L207.74 306.89L208.06 297.09L208.38 305.82L208.70 296.33L209.02 303.35L209.34 294.49L209.66 301.52L209.98 292.88L210.30 300.91L210.62 292.24L210.94 300.10L211.26 292.39L211.58 301.23L211.90 292.39L212.22 301.15L212.54 292.21L212.86 301.17L213.18 292.12L213.50 300.72L213.82 291.45L214.14 300.18L214.46 291.86L214.78 299.12L215.10 290.87L215.42 297.18L215.74 288.82L216.06 295.55L216.38 286.77L216.70 293.78L217.02 285.36L217.34 292.10L217.66 285.12L217.98 292.47L218.30 283.32L218.62 291.54L218.94 283.51L219.26 291.57L219.58 283.47L219.90 290.80L220.22 284.09L220.54 291.74L220.86 283.51L221.18 290.87L221.50 283.27L221.82 291.86L222.14 282.66L222.46 290.67L222.78 282.92L223.10 288.66L223.42 281.04L223.74 288.48L224.06 279.76L224.38 286.20L224.70 278.85L225.02 284.67L225.34 277.43L225.66 283.73L225.98 276.24L226.30 282.15L226.62 274.83L226.94 282.80L227.26 275.00L227.58 282.48L227.90 275.68L228.22 282.53L228.54 275.35L228.86 282.56L229.18 275.82L229.50 282.45L229.82 275.82L230.14 282.44L230.46 275.15L230.78 281.19L231.10 272.57L231.42 279.82L231.74 272.24L232.06 278.45L232.38 269.32L232.70 275.65L233.02 268.66L233.34 275.09L233.66 267.71L233.98 274.79L234.30 266.97L234.62 273.70L234.94 266.49L235.26 274.52L235.58 267.88L235.90 273.64L236.22 267.88L236.54 274.05L236.86 267.81L237.18 274.21L237.50 267.01L237.82 273.59L238.14 266.38L238.46 272.08L238.78 264.22L239.10 270.73L239.42 262.96L239.74 269.73L240.06 260.60L240.38 267.43L240.70 259.66L241.02 265.81L241.34 259.26L241.66 265.54L241.98 259.12L242.30 266.02L242.62 258.90L242.94 265.51L243.26 259.20L243.58 266.50L243.90 259.19L244.22 266.62L244.54 258.52L244.86 266.18L245.18 258.21L245.50 265.30L245.82 257.45L246.14 264.10L246.46 255.28L246.78 261.21L247.10 253.11L247.42 259.97L247.74 253.01L248.06 258.37L248.38 250.79L248.70 258.07L249.02 250.26L249.34 257.59L249.66 250.29L249.98 256.66L250.30 251.04L250.62 256.94L250.94 251.06L251.26 258.41L251.58 250.16L251.90 258.06L252.22 250.02L252.54 257.33L252.86 248.76L253.18 255.98L253.50 247.43L253.82 253.97L254.14 245.90L254.46 252.02L254.78 244.55L255.10 251.33L255.42 243.47L255.74 250.63L256.06 243.00L256.38 249.80L256.70 243.20L257.02 250.25L257.34 243.30L257.66 249.87L257.98 243.06L258.30 250.67L258.62 243.28L258.94 250.26L259.26 242.45L259.58 249.01L259.90 242.93L260.22 248.92L260.54 241.58L260.86 247.86L261.18 239.24L261.50 244.76L261.82 237.15L262.14 244.44L262.46 237.10L262.78 242.03L263.10 235.87L263.42 241.52L263.74 235.89L264.06 241.93L264.38 234.77L264.70 241.85L265.02 236.33L265.34 242.00L265.66 236.25L265.98 242.37L266.30 235.88L266.62 242.11L266.94 235.51L267.26 240.82L267.58 233.61L267.90 240.37L268.22 231.75L268.54 237.51L268.86 229.92L269.18 236.79L269.50 229.55L269.82 235.60L270.14 228.19L270.46 234.45L270.78 227.62L271.10 234.48L271.42 228.27L271.74 234.53L272.06 228.87L272.38 236.30L272.70 228.44L273.02 235.82L273.34 229.19L273.66 235.24L273.98 227.40L274.30 233.49L274.62 226.68L274.94 231.93L275.26 225.04L275.58 231.23L275.90 223.79L276.22 228.51L276.54 222.36L276.86 228.89L277.18 222.29L277.50 228.52L277.82 221.88L278.14 228.40L278.46 221.59L278.78 228.80L279.10 221.72L279.42 228.96L279.74 222.16L280.06 229.42L280.38 221.16L280.70 228.52L281.02 220.82L281.34 227.04L281.66 218.74L281.98 225.09L282.30 217.07L282.62 223.68L282.94 215.51L283.26 221.68L283.58 215.67L283.90 221.37L284.22 214.54L284.54 221.07L284.86 215.46L285.18 221.97L285.50 216.03L285.82 222.09L286.14 215.27L286.46 221.97L286.78 216.34L287.10 221.39L287.42 214.63L287.74 219.84L288.06 213.94L288.38 218.87L288.70 211.92L289.02 216.77L289.34 210.89L289.66 216.06L289.98 208.61L290.30 215.22L290.62 208.57L290.94 215.32L291.26 209.32L291.58 215.45L291.90 208.95L292.22 216.43L292.54 209.69L292.86 215.33L293.18 209.67L293.50 215.44L293.82 208.66L294.14 213.95L294.46 206.65L294.78 213.12L295.10 204.84L295.42 210.39L295.74 204.55L296.06 209.97L296.38 203.61L296.70 209.27L297.02 202.31L297.34 208.50L297.66 202.09L297.98 208.18L298.30 203.24L298.62 209.36L298.94 202.78L299.26 209.59L299.58 202.26L299.90 208.48L300.22 202.46L300.54 207.50L300.86 200.69L301.18 205.21L301.50 198.68L301.82 204.66L302.14 197.51L302.46 202.70L302.78 197.18L303.10 201.90L303.42 196.29L303.74 201.95L304.06 196.41L304.38 202.12L304.70 196.85L305.02 203.03L305.34 197.12L305.66 203.84L305.98 197.30L306.30 202.23L306.62 195.38L306.94 201.05L307.26 193.32L307.58 198.38L307.90 191.89L308.22 197.61L308.54 190.83L308.86 196.04L309.18 190.47L309.50 196.31L309.82 190.52L310.14 196.18L310.46 190.49L310.78 196.86L311.10 190.31L311.42 197.32L311.74 190.58L312.06 196.89L312.38 190.14L312.70 195.31L313.02 188.15L313.34 194.01L313.66 187.27L313.98 191.85L314.30 184.93L314.62 191.20L314.94 184.94L315.26 189.99L315.58 183.30L315.90 189.18L316.22 184.15L316.54 190.46L316.86 185.34L317.18 190.29L317.50 184.22L317.82 191.10L318.14 184.00L318.46 189.75L318.78 183.16L319.10 188.75L319.42 181.73L319.74 186.05L320.06 179.85L320.38 184.42L320.70 178.46L321.02 184.07L321.34 178.14L321.66 184.08L321.98 177.65L322.30 183.88L322.62 178.52L322.94 184.06L323.26 178.25L323.58 185.39L323.90 178.22L324.22 183.91L324.54 177.64L324.86 183.43L325.18 176.16L325.50 180.92L325.82 174.55L326.14 179.81L326.46 172.89L326.78 177.23L327.10 171.39L327.42 177.81L327.74 171.53L328.06 177.66L328.38 171.53L328.70 178.85L329.02 172.09L329.34 179.31L329.66 171.92L329.98 178.57L330.30 172.38L330.62 176.39L330.94 171.07L331.26 175.05L331.58 168.25L331.90 172.77L332.22 166.86L332.54 172.36L332.86 165.64L333.18 171.18L333.50 165.02L333.82 170.83L334.14 165.73L334.46 171.60L334.78 166.05L335.10 172.38L335.42 166.87L335.74 171.81L336.06 165.31L336.38 171.75L336.70 164.68L337.02 170.13L337.34 162.27L337.66 167.77L337.98 161.65L338.30 165.96L338.62 160.12L338.94 165.16L339.26 160.18L339.58 165.50L339.90 159.28L340.22 166.21L340.54 160.24L340.86 166.79L341.18 159.81L341.50 165.98L341.82 160.02L342.14 165.22L342.46 157.96L342.78 163.42L343.10 156.53L343.42 160.93L343.74 155.56L344.06 159.04L344.38 153.04L344.70 158.86L345.02 152.32L345.34 159.03L345.66 152.47L345.98 158.39L346.30 153.24L346.62 158.75L346.94 153.77L347.26 159.40L347.58 152.65L347.90 158.15L348.22 151.58L348.54 157.16L348.86 150.42L349.18 154.22L349.50 147.77L349.82 152.96L350.14 147.11L350.46 152.74L350.78 145.73L351.10 151.31L351.42 146.19L351.74 151.84L352.06 147.38L352.38 152.01L352.70 146.46L353.02 152.09L353.34 147.05L353.66 151.43L353.98 145.96L354.30 150.39L354.62 144.12L354.94 148.36L355.26 141.82L355.58 146.34L355.90 140.58L356.22 144.74L356.54 139.07L356.86 145.44L357.18 139.03L357.50 146.12L357.82 140.45L358.14 146.10L358.46 140.53L358.78 146.69L359.10 140.52L359.42 145.51L359.74 138.25L360.06 144.29L360.38 137.00L360.70 142.21L361.02 135.56L361.34 139.92L361.66 134.18L361.98 138.78L362.30 133.56L362.62 138.68L362.94 133.41L363.26 139.97L363.58 133.85L363.90 139.38L364.22 133.82L364.54 140.15L364.86 133.63L365.18 139.19L365.50 132.09L365.82 138.09L366.14 130.36L366.46 136.05L366.78 129.66L367.10 133.67L367.42 127.37L367.74 133.24L368.06 127.37L368.38 132.13L368.70 126.87L369.02 133.18L369.34 127.94L369.66 133.48L369.98 128.13L370.30 133.35L370.62 128.16L370.94 132.66L371.26 125.81L371.58 131.66L371.90 124.87L372.22 129.98L372.54 122.74L372.86 127.82L373.18 121.45L373.50 127.42L373.82 121.22L374.14 127.20L374.46 122.05L374.78 127.84L375.10 121.38L375.42 127.98L375.74 122.04L376.06 127.43L376.38 121.73L376.70 126.31L377.02 119.37L377.34 124.49L377.66 118.01L377.98 122.59L378.30 116.13L378.62 122.13L378.94 115.96L379.26 121.55L379.58 115.04L379.90 120.63L380.22 116.38L380.54 121.43L380.86 115.66L381.18 122.07L381.50 116.48L381.82 122.38L382.14 115.72L382.46 121.62L382.78 114.60L383.10 119.19L383.42 112.75L383.74 117.73L384.06 111.46L384.38 116.44L384.70 109.84L385.02 115.43L385.34 110.10L385.66 115.98L385.98 110.98L386.30 117.61L386.62 110.58L386.94 116.87L387.26 110.78L387.58 116.48L387.90 110.31L388.22 115.70L388.54 109.26L388.86 114.19L389.18 106.42L389.50 112.22L389.82 105.29L390.14 110.66L390.46 105.24L390.78 110.83L391.10 105.63L391.42 110.92L391.74 106.34L392.06 112.75L392.38 105.92L392.70 112.03L393.02 105.85L393.34 110.80L393.66 105.53L393.98 109.88L394.30 102.90L394.62 108.57L394.94 100.98L395.26 106.51L395.58 101.11L395.90 105.34L396.22 100.87L396.54 106.12L396.86 100.65L397.18 107.39L397.50 101.91L397.82 107.90L398.14 101.99L398.46 107.31L398.78 101.19L399.10 106.62L399.42 99.30L399.74 104.42L400.06 98.07L400.38 102.02L400.70 95.74L401.02 101.50L401.34 95.81L401.66 101.65L401.98 95.83L402.30 101.43L402.62 96.74L402.94 102.08L403.26 97.73L403.58 102.91L403.90 96.60L404.22 103.34L404.54 95.52L404.86 100.95L405.18 95.63L405.50 100.34L405.82 93.65L406.14 98.44L406.46 93.04L406.78 97.28L407.10 92.46L407.42 98.21L407.74 92.18L408.06 98.35L408.38 94.15L408.70 99.03L409.02 93.28L409.34 98.73L409.66 93.48L409.98 97.90L410.30 92.54L410.62 97.33L410.94 91.19L411.26 95.73L411.58 90.35L411.90 95.01L412.22 88.93L412.54 94.68L412.86 90.09L413.18 95.93L413.50 90.67L413.82 96.50L414.14 90.10L414.46 97.06L414.78 91.27L415.10 95.44L415.42 90.40L415.74 94.61L416.06 89.13L416.38 94.26L416.70 88.21L417.02 91.72L417.34 86.85L417.66 92.41L417.98 87.50L418.30 91.59L418.62 87.34L418.94 93.24L419.26 88.24L419.58 93.32L419.90 87.73L420.22 93.76L420.54 87.22L420.86 92.27L421.18 86.80L421.50 91.71L421.82 86.22L422.14 91.08L422.46 85.21L422.78 90.13L423.10 84.36L423.42 90.52L423.74 84.64L424.06 90.68L424.38 85.23L424.70 91.70L425.02 85.16L425.34 91.95L425.66 86.46L425.98 92.45L426.30 85.29L426.62 90.46L426.94 84.37L427.26 89.32L427.58 84.50L427.90 88.49L428.22 83.36L428.54 88.96L428.86 83.42L429.18 88.71L429.50 84.00L429.82 89.83L430.14 84.37L430.46 90.21L430.78 83.84L431.10 89.80L431.42 84.38L431.74 90.03L432.06 83.15L432.38 88.95L432.70 82.61L433.02 87.93L433.34 83.24L433.66 87.28L433.98 82.43L434.30 87.71L434.62 82.67L434.94 88.90L435.26 83.47L435.58 89.48L435.90 83.97L436.22 89.94L436.54 83.55L436.86 90.24L437.18 83.26L437.50 88.21L437.82 83.34L438.14 87.54L438.46 81.96L438.78 86.92L439.10 82.60L439.42 87.26L439.74 82.82L440.06 88.86L440.38 82.35L440.70 88.83L441.02 84.00L441.34 90.04L441.66 82.96L441.98 88.83L442.30 82.93L442.62 88.11L442.94 83.62L443.26 87.15L443.58 82.59L443.90 86.74L444.22 82.69L444.54 88.23L444.86 82.43L445.18 88.40L445.50 83.32L445.82 90.13L446.14 83.71L446.46 90.98L446.78 83.35L447.10 89.57L447.42 83.05L447.74 88.88L448.06 84.22L448.38 89.06L448.70 82.86L449.02 87.63L449.34 84.06L449.66 87.55L449.98 83.62L450.30 88.91L450.62 84.56L450.94 90.85L451.26 85.01L451.58 90.75L451.90 84.45L452.22 90.61L452.54 84.84L452.86 90.07L453.18 84.32L453.50 89.83L453.82 84.18L454.14 89.40L454.46 84.75L454.78 89.78L455.10 84.75L455.42 90.05L455.74 85.88L456.06 91.50L456.38 84.66L456.70 91.43L457.02 86.13L457.34 92.11L457.66 84.96L457.98 91.91L458.30 86.11L458.62 90.95L458.94 86.41L459.26 91.14L459.58 86.79L459.90 91.10L460.22 86.58L460.54 90.76L460.86 86.76L461.18 92.05L461.50 86.91L461.82 92.61L462.14 87.10L462.46 93.53L462.78 86.77L463.10 93.57L463.42 86.65L463.74 93.19L464.06 87.87L464.38 92.35L464.70 88.08L465.02 92.31L465.34 87.76L465.66 93.31L465.98 87.54L466.30 94.41L466.62 88.00L466.94 95.35L467.26 87.38L467.58 94.94L467.90 87.61L468.22 95.38L468.54 89.24L468.86 94.33L469.18 88.72L469.50 93.73L469.82 89.49L470.14 93.41L470.46 90.29L470.78 94.43L471.10 89.81L471.42 94.85L471.74 89.50L472.06 95.71L472.38 88.82L472.70 95.64L473.02 90.32L473.34 95.93L473.66 90.62L473.98 95.36L474.30 91.29L474.62 95.56L474.94 90.59L475.26 95.38L475.58 90.91L475.90 95.42L476.22 91.01L476.54 96.82L476.86 90.53L477.18 98.33L477.50 90.70L477.82 98.58L478.14 92.13L478.46 97.86L478.78 91.02L479.10 97.70L479.42 92.02L479.74 97.26L480.06 93.01L480.38 96.82L480.70 93.21L481.02 96.87L481.34 92.16L481.66 98.42L481.98 93.35L482.30 98.59L482.62 92.89L482.94 98.24L483.26 91.76L483.58 98.60L483.90 92.90L484.22 98.20L484.54 93.66L484.86 97.61L485.18 93.35L485.50 97.51L485.82 94.24L486.14 97.87L486.46 94.53L486.78 98.24L487.10 94.15L487.42 99.92L487.74 93.22L488.06 100.72L488.38 93.08L488.70 99.65L489.02 94.32L489.34 100.32L489.66 94.16L489.98 98.42L490.30 95.07L490.62 98.81L490.94 95.16L491.26 99.39L491.58 94.23L491.90 99.91L492.22 95.22L492.54 101.02L492.86 94.87L493.18 101.07L493.50 94.49L493.82 100.90L494.14 94.18L494.46 100.96L494.78 95.01L495.10 99.00L495.42 94.76L495.74 99.02L496.06 95.81L496.38 99.69L496.70 95.20L497.02 99.68L497.34 94.84L497.66 100.79L497.98 95.70L498.30 100.65L498.62 95.33L498.94 101.83L499.26 94.82L499.58 100.83L499.90 95.10L500.22 100.11L500.54 95.22L500.86 99.62L501.18 95.56L501.50 100.20L501.82 95.55L502.14 99.61L502.46 95.47L502.78 100.26L503.10 95.10L503.42 101.01L503.74 95.56L504.06 100.90L504.38 95.60L504.70 101.02L505.02 96.03L505.34 100.27L505.66 96.22L505.98 99.86L506.30 96.60L506.62 100.49L506.94 96.72L507.26 100.97L507.58 95.76L507.90 101.03L508.22 95.86L508.54 102.03L508.86 96.04L509.18 102.39L509.50 95.68L509.82 101.20L510.14 96.84L510.46 101.25L510.78 95.88L511.10 100.62L511.42 96.79L511.74 100.52L512.06 96.77L512.38 100.82L512.70 96.00L513.02 100.70L513.34 95.25L513.66 101.72L513.98 95.32L514.30 102.04L514.62 95.14L514.94 101.54L515.26 96.41L515.58 100.88L515.90 96.74L516.22 100.27L516.54 96.51L516.86 100.42L517.18 97.03L517.50 100.84L517.82 95.91L518.14 100.87L518.46 96.79L518.78 102.14L519.10 95.19L519.42 101.03L519.74 94.90L520.06 102.09L520.38 96.04L520.70 100.94L521.02 96.34L521.34 100.16L521.66 95.97L521.98 100.42L522.30 96.80L522.62 99.95L522.94 96.90L523.26 101.42L523.58 95.84L523.90 102.15L524.22 96.16L524.54 101.07L524.86 95.77L525.18 102.45L525.50 95.39L525.82 101.13L526.14 96.46L526.46 100.58L526.78 96.75L527.10 100.34L527.42 96.70L527.74 99.90L528.06 96.39L528.38 100.25L528.70 96.68L529.02 101.55L529.34 95.42L529.66 100.78L529.98 94.99L530.30 101.83L530.62 95.23L530.94 100.80L531.26 95.54L531.58 100.01L531.90 96.50L532.22 100.44L532.54 96.56L532.86 99.63L533.18 95.92L533.50 100.99L533.82 95.48L534.14 101.88L534.46 95.51L534.78 100.89L535.10 95.89L535.42 101.50L535.74 94.96L536.06 101.13L536.38 95.90L536.70 99.86L537.02 95.97L537.34 100.11L537.66 96.43L537.98 100.07L538.30 96.47L538.62 100.37L538.94 95.40L539.26 101.25L539.58 95.06L539.90 100.99L540.22 95.97L540.54 101.57L540.86 94.66L541.18 100.72L541.50 95.44L541.82 100.21L542.14 96.42L542.46 100.30L542.78 96.35L543.10 99.70L543.42 96.14L543.74 100.62L544.06 95.41L544.38 100.46L544.70 95.10L545.02 100.50L545.34 94.83L545.66 101.42L545.98 94.63L546.30 101.09L546.62 95.65L546.94 100.27L547.26 95.98L547.58 99.46L547.90 95.88L548.22 100.20L548.54 95.75L548.86 100.24L549.18 95.91L549.50 101.08L549.82 94.64L550.14 100.88L550.46 95.93L550.78 102.22L551.10 95.73L551.42 100.63L551.74 94.80L552.06 100.11L552.38 95.54L552.70 99.85L553.02 96.27L553.34 99.57L553.66 95.70L553.98 100.39L554.30 95.26L554.62 100.23L554.94 95.86L555.26 101.86L555.58 95.68L555.90 100.92L556.22 95.10L556.54 101.67L556.86 95.43L557.18 99.83L557.50 96.02L557.82 99.49L558.14 95.96L558.46 100.05L558.78 95.77L559.10 99.98L559.42 95.64L559.74 100.36L560.06 94.76L560.38 101.06L560.70 94.93L561.02 101.09L561.34 94.38L561.66 100.32L561.98 94.97L562.30 100.95L562.62 95.05L562.94 99.30L563.26 96.07L563.58 99.46L563.90 95.39L564.22 100.02L564.54 95.79L564.86 100.36L565.18 94.60L565.50 100.70L565.82 95.67L566.14 101.32L566.46 94.67L566.78 101.51L567.10 94.45L567.42 100.39L567.74 95.82L568.06 99.40L568.38 95.32L568.70 99.65L569.02 96.11L569.34 99.24L569.66 95.81L569.98 99.61L570.30 94.94L570.62 101.18L570.94 95.46L571.26 101.89L571.58 94.17L571.90 101.11L572.22 95.04L572.54 100.28L572.86 94.56L573.18 99.83L573.50 95.00L573.82 99.66L574.14 95.07L574.46 99.55L574.78 95.84L575.10 99.23L575.42 94.79L575.74 99.78L576.06 94.37L576.38 100.31L576.70 95.10L577.02 100.18L577.34 94.24L577.66 100.21L577.98 94.72L578.30 99.62L578.62 95.03L578.94 98.98L579.26 95.60L579.58 98.64L579.90 94.84L580.22 98.98L580.54 95.14L580.86 100.06L581.18 94.65L581.50 100.21L581.82 94.73L582.14 100.09L582.46 93.83L582.78 99.64L583.10 95.44L583.42 99.11L583.74 95.62L584.06 99.42L584.38 95.39L584.70 99.65L585.02 94.86L585.34 99.19L585.66 95.01L585.98 100.35L586.30 95.07L586.62 100.87L586.94 93.77L587.26 100.30L587.58 93.57L587.90 100.32L588.22 94.34L588.54 100.02L588.86 95.17L589.18 99.50L589.50 94.85L589.82 99.56L590.14 95.26L590.46 99.10L590.78 94.97L591.10 100.27L591.42 95.40L591.74 100.98L592.06 93.48L592.38 100.58L592.70 94.33L593.02 100.63L593.34 94.53L593.66 100.63L593.98 95.68L594.30 98.82L594.62 95.27L594.94 99.22L595.26 94.89L595.58 98.98L595.90 94.70L596.22 99.61L596.54 95.37L596.86 100.50L597.18 93.89L597.50 100.57L597.82 94.55L598.14 99.90L598.46 94.92L598.78 100.47L599.10 95.70L599.42 99.16L599.74 95.60L600.06 99.49L600.38 95.10L600.70 99.85L601.02 94.45L601.34 100.37L601.66 95.23L601.98 101.11L602.30 95.11L602.62 101.87L602.94 95.21L603.26 100.36L603.58 94.50L603.90 100.92L604.22 95.46L604.54 99.20L604.86 95.27L605.18 99.15L605.50 95.06L605.82 99.69L606.14 95.05L606.46 100.33L606.78 94.47L607.10 101.25L607.42 95.11L607.74 100.72L608.06 94.83L608.38 101.32L608.70 95.08L609.02 100.12L609.34 94.36L609.66 99.42L609.98 95.77L610.30 99.11L610.62 95.86L610.94 99.02L611.26 95.55L611.58 99.75L611.90 94.07L612.22 100.66L612.54 94.03L612.86 101.89L613.18 94.27L613.50 101.84L613.82 94.32L614.14 100.59L614.46 94.60L614.78 100.38L615.10 95.78L615.42 99.39L615.74 95.74L616.06 99.02L616.38 95.61L616.70 100.37L617.02 94.44L617.34 99.95L617.66 94.27L617.98 101.22L618.30 94.65L618.62 100.60L618.94 94.94L619.26 101.18L619.58 95.24L619.90 99.90L620.22 95.52L620.54 99.82L620.86 95.55L621.18 99.70L621.50 95.60L621.82 99.34L622.14 95.40L622.46 100.19L622.78 93.95L623.10 100.31L623.42 94.00L623.74 101.83L624.06 95.19L624.38 100.96L624.70 94.78L625.02 100.23L625.34 95.19L625.66 99.86L625.98 95.61L626.30 100.01L626.62 94.88L626.94 99.94L627.26 94.44L627.58 101.16L627.90 94.69L628.22 100.71L628.54 93.86L628.86 101.90L629.18 95.06L629.50 100.43L629.82 95.02L630.14 99.96L630.46 95.18L630.78 99.92L631.10 95.23L631.42 98.98L631.74 95.46L632.06 99.68L632.38 95.19L632.70 100.17L633.02 94.41L633.34 100.65L633.66 95.23L633.98 101.36L634.30 94.00L634.62 100.14" stroke="#ff0000" stroke-width="2.4"/>
<path d="M119.10 427.12V434.03M122.62 421.69V431.02M141.18 392.26V398.42M156.54 361.93V357.36M158.78 358.47V353.48M162.94 351.63V347.33M164.86 351.09V345.09M176.06 335.88V330.74M252.86 250.43V246.23M253.18 249.82V245.42M296.38 208.10V213.37M297.98 208.14V213.25M306.94 195.63V191.54M326.14 178.44V185.28M345.98 158.26V163.88M369.98 133.26V140.74M378.62 120.89V125.14M416.38 88.83V86.13M450.30 84.40V81.56M469.82 93.24V97.18M484.86 97.51V103.57M493.82 100.03V105.84M494.14 95.32V92.34M506.94 99.72V104.99M565.18 99.93V106.23M594.30 95.75V92.69M115.58 436.59V442.33M173.50 350.18V356.08M189.82 329.85V335.15M214.14 298.72V303.93M266.30 241.67V246.78M381.50 121.57V125.59M387.26 116.43V120.45M441.34 88.96V93.93M446.46 89.38V96.20M451.58 90.03V95.41M457.02 91.36V95.88M456.70 86.27V82.83M462.14 92.67V97.71M461.91 87.52V83.44M467.26 94.12V99.60M466.99 88.93V84.25M472.38 95.58V101.40M477.82 97.21V104.59M477.54 92.07V88.72M482.94 98.40V105.57M488.06 99.38V106.79M488.26 94.40V90.33M493.18 100.02V105.43M513.98 101.24V106.98M524.54 101.18V107.92M524.62 96.34V91.94M529.66 101.06V107.78M529.75 96.24V92.94M534.78 100.96V108.53M534.73 96.16V91.17M540.22 100.91V107.50M540.48 96.06V91.48M545.34 100.82V107.06M545.12 95.98V92.52M555.58 100.61V107.82M555.79 95.80V90.78M561.02 100.53V104.99M566.14 100.42V106.04M566.24 95.56V90.36M581.82 100.13V107.16M586.94 100.17V107.20M586.91 95.10V90.40M592.06 100.19V105.28M597.18 100.22V106.39M597.37 95.13V90.52M602.62 100.29V107.96M602.24 95.12V91.77M607.74 100.33V107.04M612.86 100.36V107.29M613.05 95.15V90.37M617.98 100.38V105.66M618.22 95.16V90.17M623.42 100.45V107.65M623.40 95.15V90.75M628.54 100.49V105.82M628.79 95.16V89.94" stroke="#ff0000" stroke-width="1.1"/>
<path d="M88.45 476.00L88.55 350.00L88.95 356.94L89.20 363.86L89.45 366.78L89.70 376.56L89.95 377.15L90.20 386.44L90.45 385.28L90.70 395.33L90.95 391.54L91.20 405.50L91.45 399.03L91.70 417.41L91.95 408.91L92.20 428.04L92.45 418.14L92.70 438.05L92.95 423.50L93.20 443.81L93.45 430.39L93.70 450.99L93.95 435.32L94.20 452.80L94.45 433.22L94.70 450.80L94.95 432.04L95.20 449.31L95.45 429.48L95.70 445.15L95.95 426.54L96.20 443.37L96.45 422.99L96.70 441.99L96.95 425.69L97.20 445.17L97.45 428.98L97.70 447.97L97.95 431.76L98.20 452.26L98.45 435.34L98.70 454.85L98.95 438.29L99.20 455.73L99.45 436.75L99.70 453.75L99.95 433.42L100.20 449.79L100.45 429.75L100.70 446.85L100.95 426.99L101.20 442.84L101.45 423.70L101.70 441.98L101.95 423.60L102.20 442.74L102.45 424.47L102.70 444.40L102.95 426.06L103.20 445.29L103.45 427.84L103.70 446.82L103.95 428.83L104.20 447.65L104.45 430.94L104.70 447.99L104.95 428.93L105.20 446.61L105.45 427.66L105.70 444.27L105.95 424.89L106.20 442.72L106.45 423.10L106.70 440.14L106.95 420.70L107.20 437.83L107.45 418.47L107.70 435.30L107.95 415.06L108.20 432.61L108.45 414.22L108.70 431.68L108.95 412.72L109.20 430.76L109.45 411.47L109.70 429.10L109.95 411.06L110.20 428.49L110.45 409.42L110.70 427.51L110.95 408.49L111.20 425.60L111.45 406.41L111.70 424.43L111.95 405.11L112.20 422.15L112.45 403.48L112.70 420.53L112.95 401.61L113.20 419.23L113.45 400.29L113.70 418.01L113.95 398.93L114.20 416.72L114.45 397.62L114.70 415.03L114.95 395.75L115.20 414.31L115.45 394.99L115.70 413.11L115.95 394.33L116.20 412.39L116.45 393.24L116.70 409.92L116.95 391.79L117.20 408.67L117.45 390.36L117.70 407.90L117.95 389.02L118.20 406.22L118.45 386.77L118.70 404.94L118.95 386.23L119.20 403.74L119.45 384.92L119.70 402.68L119.95 383.51L120.20 401.43L120.45 382.65L120.70 401.21L120.95 382.07L121.20 400.59L121.45 381.38L121.70 400.08L121.95 380.21L122.20 398.49L122.45 378.64L122.70 397.20L122.95 376.97L123.20 394.65L123.45 375.48L123.70 394.20L123.95 374.17L124.20 393.22L124.45 374.25L124.70 391.99L124.95 372.99L125.20 391.10L125.45 371.39L125.70 389.98L125.95 371.08L126.20 389.71L126.45 370.30L126.70 388.58L126.95 368.89L127.20 387.19L127.45 367.41L127.70 384.40L127.95 366.10L128.20 383.18L128.45 363.76L128.70 381.68L128.95 361.95L129.20 379.87L129.45 360.45L129.70 378.15L129.95 359.55L130.20 377.43L130.45 358.63L130.70 376.87L130.95 356.97L131.20 375.02L131.45 357.32L131.70 374.68L131.95 355.13L132.20 372.67L132.45 354.63L132.70 371.58L132.95 353.48L133.20 370.11L133.45 351.12L133.70 367.68L133.95 349.56L134.20 367.20L134.45 347.65L134.70 365.53L134.95 346.89L135.20 364.36L135.45 345.02L135.70 362.45L135.95 343.98L136.20 361.09L136.45 343.80L136.70 360.63L136.95 342.98L137.20 358.69L137.45 340.40L137.70 357.41L137.95 339.92L138.20 355.15L138.45 338.38L138.70 354.32L138.95 336.48L139.20 352.42L139.45 334.57L139.70 350.60L139.95 332.80L140.20 348.59L140.45 330.65L140.70 347.90L140.95 329.52L141.20 346.77L141.45 328.62L141.70 344.86L141.95 327.57L142.20 344.04L142.45 327.10L142.70 342.31L142.95 325.08L143.20 340.78L143.45 323.44L143.70 338.85L143.95 321.30L144.20 336.97L144.45 319.56L144.70 334.67L144.95 317.25L145.20 333.37L145.45 315.01L145.70 331.55L145.95 313.62L146.20 329.70L146.45 313.25L146.70 328.79L146.95 310.82L147.20 327.08L147.45 309.36L147.70 325.94L147.95 308.95L148.20 323.52L148.45 307.02L148.70 321.48L148.95 305.58L149.20 320.01L149.45 303.08L149.70 317.90L149.95 301.78L150.20 316.73L150.45 299.87L150.70 314.76L150.95 297.05L151.20 312.76L151.45 296.75L151.70 310.80L151.95 294.57L152.20 310.67L152.45 294.55L152.70 308.77L152.95 293.08L153.20 307.88L153.45 291.34L153.70 305.53L153.95 289.70L154.20 304.16L154.45 288.04L154.70 301.72L154.95 286.49L155.20 299.90L155.45 284.47L155.70 297.75L155.95 282.46L156.20 297.21L156.45 281.60L156.70 294.99L156.95 280.23L157.20 294.33L157.45 278.82L157.70 293.59L157.95 277.28L158.20 292.35L158.45 275.72L158.70 290.70L158.95 274.28L159.20 288.61L159.45 273.05L159.70 286.93L159.95 270.86L160.20 284.30L160.45 269.21L160.70 282.71L160.95 267.23L161.20 280.24L161.45 266.37L161.70 278.80L161.95 264.95L162.20 278.31L162.45 263.31L162.70 276.54L162.95 262.79L163.20 275.33L163.45 261.44L163.70 273.62L163.95 258.79L164.20 272.59L164.45 258.49L164.70 271.02L164.95 256.32L165.20 268.27L165.45 254.86L165.70 266.43L165.95 251.70L166.20 264.99L166.45 251.06L166.70 262.77L166.95 248.60L167.20 261.71L167.45 247.79L167.70 259.45L167.95 246.76L168.20 257.82L168.45 244.95L168.70 257.25L168.95 243.32L169.20 255.30L169.45 242.41L169.70 253.51L169.95 240.29L170.20 252.96L170.45 239.51L170.70 250.58L170.95 237.18L171.20 247.66L171.45 235.71L171.70 246.52L171.95 233.64L172.20 244.14L172.45 231.97L172.70 243.44L172.95 231.45L173.20 242.33L173.45 229.31L173.70 240.62L173.95 227.72L174.20 238.80L174.45 227.38L174.70 236.35L174.95 224.67L175.20 234.78L175.45 222.62L175.70 233.73L175.95 221.37L176.20 231.82L176.45 219.76L176.70 228.90L176.95 217.76L177.20 226.71L177.45 216.87L177.70 226.48L177.95 215.39L178.20 223.78L178.45 212.82L178.70 223.64L178.95 212.42L179.20 221.75L179.45 210.71L179.70 220.62L179.95 209.75L180.20 218.58L180.45 208.03L180.70 215.93L180.95 205.22L181.20 215.32L181.45 203.21L181.70 212.99L181.95 202.19L182.20 211.47L182.45 199.76L182.70 209.27L182.95 198.04L183.20 207.43L183.45 196.98L183.70 205.89L183.95 196.17L184.20 205.45L184.45 194.57L184.70 203.95L184.95 192.84L185.20 201.86L185.45 191.63L185.70 199.88L185.95 189.95L186.20 197.61L186.45 187.87L186.70 195.31L186.95 186.86L187.20 194.43L187.45 184.54L187.70 192.73L187.95 183.41L188.20 190.44L188.45 181.30L188.70 188.20L188.95 180.16L189.20 187.46L189.45 179.09L189.70 185.51L189.95 178.61L190.20 184.48L190.45 176.36L190.70 182.36L190.95 174.30L191.20 181.08L191.45 172.55L191.70 178.01L191.95 170.27L192.20 176.75L192.45 167.77L192.70 174.05L192.95 166.18L193.20 172.40L193.45 164.45L193.70 170.22L193.95 163.49L194.20 168.76L194.45 162.14L194.70 167.90L194.95 160.48L195.20 166.43L195.45 159.20L195.70 164.54L195.95 158.33L196.20 163.99L196.45 155.72L196.70 161.61L196.95 154.92L197.20 159.13L197.45 151.88L197.70 158.09L197.95 150.50L198.20 154.97L198.45 148.52L198.70 153.88L198.95 147.64L199.20 152.86L199.45 146.60L199.70 150.16L199.95 143.89L200.20 148.45L200.45 141.85L200.70 147.33L200.95 140.81L201.20 145.07L201.45 138.83L201.70 142.20L201.95 136.51L202.20 140.04L202.45 134.55L202.70 137.71L202.95 131.22L203.20 135.12L203.45 128.57L203.70 133.02L203.95 126.54L204.20 131.22L204.45 125.62L204.70 129.80L204.95 123.93L205.20 128.95L205.45 122.94L205.70 127.54L205.95 122.00L206.20 125.65L206.45 119.69L206.70 124.75L206.95 118.29L207.20 122.58L207.45 116.61L207.70 120.86L207.95 114.19L208.20 118.48L208.45 111.81L208.70 116.46L208.95 110.04L209.20 115.00L209.45 109.79L209.70 112.99L209.95 107.64L210.20 111.95L210.45 106.61L210.70 109.99L210.95 105.06L211.20 108.85L211.45 103.79L211.70 107.62L211.95 102.04L212.20 106.36L212.45 100.06L212.70 103.70L212.95 98.28L213.20 102.82L213.45 95.97L213.70 99.61L213.95 93.53L214.20 98.26L214.45 92.51L214.70 97.52L214.95 90.45L215.20 96.55L215.45 89.34L215.70 95.32L215.95 88.26L216.20 93.93L216.45 86.85L216.70 92.14L216.95 84.89L217.20 90.47L217.45 84.16L217.70 89.42L217.95 81.79L218.20 87.37L218.45 80.47L218.70 86.88L218.95 79.66L219.20 85.76L219.45 77.94L219.70 83.98L219.95 77.38L220.20 84.13L220.45 76.65L220.70 82.68L220.95 75.22L221.20 82.04L221.45 74.52L221.70 81.52L221.95 74.47L222.20 80.52L222.45 73.12L222.70 79.59L222.95 72.87L223.20 79.68L223.45 72.55L223.70 79.28L223.95 70.49L224.20 77.70L224.45 70.79L224.70 78.25L224.95 70.26L225.20 77.30L225.45 70.00L225.70 77.78L225.95 70.68L226.20 77.79L226.45 69.69L226.70 77.58L226.95 70.78L227.20 78.60L227.45 70.78L227.70 78.23L227.95 71.18L228.20 78.51L228.45 70.54L228.70 78.32L228.95 69.96L229.20 79.41L229.45 70.43L229.70 78.75L229.95 70.17L230.20 79.51L230.45 71.33L230.70 79.91L230.95 72.09L231.20 81.95L231.45 73.05L231.70 83.02L231.95 74.88L232.20 84.10L232.45 74.68L232.70 84.88L232.95 75.72L233.20 85.26L233.45 76.64L233.70 85.78L233.95 77.26L234.20 86.54L234.45 76.65L234.70 86.49L234.95 77.27L235.20 88.14L235.45 78.23L235.70 87.81L235.95 79.60L236.20 89.64L236.45 79.45L236.70 90.84L236.95 81.46L237.20 90.82L237.45 82.13L237.70 92.38L237.95 83.60L238.20 93.04L238.45 83.83L238.70 93.29L238.95 84.80L239.20 94.89L239.45 85.25L239.70 94.60L239.95 84.79L240.20 94.60L240.45 86.28L240.70 95.13L240.95 86.68L241.20 95.73L241.45 86.11L241.70 96.04L241.95 87.62L242.20 96.91L242.45 88.52L242.70 97.08L242.95 88.65L243.20 98.58L243.45 89.65L243.70 99.27L243.95 90.08L244.20 99.12L244.45 91.09L244.70 98.83L244.95 90.12L245.20 98.37L245.45 90.68L245.70 98.97L245.95 90.49L246.20 98.57L246.45 90.04L246.70 98.77L246.95 91.51L247.20 99.11L247.45 92.30L247.70 99.33L247.95 92.18L248.20 100.38L248.45 91.92L248.70 100.72L248.95 92.65L249.20 99.82L249.45 92.77L249.70 100.26L249.95 92.84L250.20 100.35L250.45 93.00L250.70 99.33L250.95 92.17L251.20 99.72L251.45 92.02L251.70 100.08L251.95 91.67L252.20 99.02L252.45 92.93L252.70 99.65L252.95 92.57L253.20 100.66L253.45 92.67L253.70 100.33L253.95 93.68L254.20 100.37L254.45 93.22L254.70 100.49L254.95 93.68L255.20 100.21L255.45 92.24L255.70 99.74L255.95 91.95L256.20 99.14L256.45 92.10L256.70 99.37L256.95 92.09L257.20 99.21L257.45 92.19L257.70 99.60L257.95 93.28L258.20 99.91L258.45 93.83L258.70 101.12L258.95 93.06L259.20 100.42L259.45 93.44L259.70 100.44L259.95 93.33L260.20 100.33L260.45 93.84L260.70 99.60L260.95 93.71L261.20 99.83L261.45 93.38L261.70 99.72L261.95 92.83L262.20 98.56L262.45 92.46L262.70 99.07L262.95 93.52L263.20 100.12L263.45 93.45L263.70 99.49L263.95 93.92L264.20 100.19L264.45 93.57L264.70 100.54L264.95 93.87L265.20 100.65L265.45 93.38L265.70 100.25L265.95 93.16L266.20 100.34L266.45 93.32L266.70 98.73L266.95 92.01L267.20 99.89L267.45 92.94L267.70 99.64L267.95 93.43L268.20 100.14L268.45 92.52L268.70 99.85L268.95 93.42L269.20 100.35L269.45 94.38L269.70 100.20L269.95 93.19L270.20 100.00L270.45 93.85L270.70 100.63L270.95 92.84L271.20 99.93L271.45 93.35L271.70 98.75L271.95 93.21L272.20 99.24L272.45 93.06L272.70 99.31L272.95 92.08L273.20 98.92L273.45 92.31L273.70 98.95L273.95 93.66L274.20 99.50L274.45 93.12L274.70 100.81L274.95 93.29L275.20 99.79L275.45 93.86L275.70 99.97L275.95 93.77L276.20 99.35L276.45 92.49L276.70 99.56L276.95 93.49L277.20 99.03L277.45 92.85L277.70 99.72L277.95 92.34L278.20 98.92L278.45 93.20L278.70 99.07L278.95 92.78L279.20 98.98L279.45 93.48L279.70 99.26L279.95 92.94L280.20 100.09L280.45 93.42L280.70 100.45L280.95 93.75L281.20 99.36L281.45 93.95L281.70 99.68L281.95 93.28L282.20 99.87L282.45 92.26L282.70 99.47L282.95 92.37L283.20 99.21L283.45 92.37L283.70 98.69L283.95 93.42L284.20 99.38L284.45 93.02L284.70 100.12L284.95 92.70L285.20 100.56L285.45 93.28L285.70 100.12L285.95 94.36L286.20 100.80L286.45 93.12L286.70 100.56L286.95 93.76L287.20 99.42L287.45 93.23L287.70 99.43L287.95 92.16L288.20 98.56L288.45 92.40L288.70 98.41L288.95 92.53L289.20 98.61L289.45 92.45L289.70 98.88L289.95 92.48L290.20 99.38L290.45 93.10L290.70 99.86L290.95 93.42L291.20 99.76L291.45 94.38L291.70 100.23L291.95 93.73L292.20 99.53L292.45 92.97L292.70 100.09L292.95 92.06L293.20 99.39L293.45 93.10L293.70 99.13L293.95 92.01L294.20 98.77L294.45 93.22L294.70 98.77L294.95 92.93L295.20 99.52L295.45 93.65L295.70 100.73L295.95 93.07L296.20 100.55L296.45 94.06L296.70 100.86L296.95 94.04L297.20 99.51L297.45 92.67L297.70 99.41L297.95 93.53L298.20 99.28L298.45 92.94L298.70 99.08L298.95 92.10L299.20 99.33L299.45 93.17L299.70 98.71L299.95 92.66L300.20 100.15L300.45 92.64L300.70 99.30L300.95 93.32L301.20 100.04L301.45 94.36L301.70 100.92L301.95 94.12L302.20 99.75L302.45 93.02L302.70 99.97L302.95 92.84L303.20 99.21L303.45 92.11L303.70 99.49L303.95 93.11L304.20 99.05L304.45 92.20L304.70 98.63L304.95 92.36L305.20 100.03L305.45 93.51L305.70 99.56L305.95 93.72L306.20 100.50L306.45 94.14L306.70 100.09L306.95 94.38L307.20 99.96L307.45 93.19L307.70 99.65L307.95 93.22L308.20 100.13L308.45 92.74L308.70 99.38L308.95 92.00L309.20 99.43L309.45 93.16L309.70 99.76L309.95 92.73L310.20 99.75L310.45 92.45L310.70 99.78L310.95 93.11L311.20 100.17L311.45 93.57L311.70 100.06L311.95 93.78L312.20 100.01L312.45 93.01L312.70 99.61L312.95 92.86L313.20 99.99L313.45 93.12L313.70 99.54L313.95 93.30L314.20 99.28L314.45 93.18L314.70 98.69L314.95 92.40L315.20 99.46L315.45 93.06L315.70 99.03L315.95 92.77L316.20 99.24L316.45 92.78L316.70 100.58L316.95 92.98L317.20 99.77L317.45 94.23L317.70 100.03L317.95 92.88L318.20 100.02L318.45 94.03L318.70 99.99L318.95 93.29L319.20 99.67L319.45 92.82L319.70 99.27L319.95 92.68L320.20 99.58L320.45 93.17L320.70 99.10L320.95 93.33L321.20 99.48L321.45 93.28L321.70 100.25L321.95 93.19L322.20 100.75L322.45 94.06L322.70 100.08L322.95 93.26L323.20 99.63L323.45 93.15L323.70 99.89L323.95 93.95L324.20 99.32L324.45 93.43L324.70 99.28L324.95 92.61L325.20 98.55L325.45 92.40L325.70 99.48L325.95 91.81L326.20 98.51L326.45 91.94L326.70 99.23L326.95 92.36L327.20 99.13L327.45 93.94L327.70 100.39L327.95 93.26L328.20 100.07L328.45 93.11L328.70 100.08L328.95 92.87L329.20 99.24L329.45 93.70L329.70 98.94L329.95 92.43L330.20 99.49L330.45 92.23L330.70 99.31L330.95 91.80L331.20 99.56L331.45 92.38L331.70 99.56L331.95 93.51L332.20 99.92L332.45 93.82L332.70 99.99L332.95 93.10L333.20 100.41L333.45 94.27L333.70 99.78L333.95 94.27L334.20 99.53L334.45 93.77L334.70 99.78L334.95 93.18L335.20 98.82L335.45 93.30L335.70 98.50L335.95 92.80L336.20 98.73L336.45 92.89L336.70 99.85L336.95 92.88L337.20 99.83L337.45 92.53L337.70 99.13L337.95 94.00L338.20 99.52L338.45 93.65L338.70 99.90L338.95 94.20L339.20 100.43L339.45 94.21L339.70 99.40L339.95 92.66L340.20 100.35L340.45 92.14L340.70 98.70L340.95 92.49L341.20 99.55L341.45 92.51L341.70 99.05L341.95 92.40L342.20 98.79L342.45 92.07L342.70 99.73L342.95 93.38L343.20 99.63L343.45 92.76L343.70 99.92L343.95 93.00L344.20 100.33L344.45 93.63L344.70 100.80L344.95 92.76L345.20 99.52L345.45 92.39L345.70 99.92L345.95 93.25L346.20 99.80L346.45 92.83L346.70 99.23L346.95 91.80L347.20 98.67L347.45 92.89L347.70 99.91L347.95 92.53L348.20 99.14L348.45 93.77L348.70 100.25L348.95 94.06L349.20 100.94L349.45 93.65L349.70 100.42L349.95 92.91L350.20 100.19L350.45 93.16L350.70 100.33L350.95 93.28L351.20 100.01L351.45 93.10L351.70 98.88L351.95 93.08L352.20 99.67L352.45 91.86L352.70 99.82L352.95 92.18L353.20 99.10L353.45 93.39L353.70 99.28L353.95 93.09L354.20 99.37L354.45 92.89L354.70 100.19L354.95 94.16L355.20 99.57L355.45 93.02L355.70 99.72L355.95 93.10L356.20 100.00L356.45 93.32L356.70 98.95L356.95 92.81" stroke="#00ff00" stroke-width="2.4" stroke-dasharray="3 1.2"/>
<path d="M138.70 339.82V334.90M145.70 317.55V311.95M150.20 313.31V320.70M157.20 291.72V299.41M157.95 289.90V294.78M165.70 264.14V271.50M178.45 215.07V210.92M184.20 203.54V209.65M184.95 201.34V207.03M203.20 134.80V139.71M219.70 78.52V75.84M223.20 78.26V83.69M239.45 86.46V83.50M248.70 93.78V90.68M264.70 99.54V105.06M279.70 99.10V104.49M283.20 98.19V101.42M301.20 99.25V103.81M305.20 93.57V90.97M306.95 99.38V105.07M345.20 94.07V91.67M345.70 93.72V90.78M353.70 94.02V91.13" stroke="#00ff00" stroke-width="1.1"/>
<path d="M88.45 476.00L88.55 353.00L88.95 356.30L89.20 364.64L89.45 366.80L89.70 376.07L89.95 376.62L90.20 386.67L90.45 384.64L90.70 394.84L90.95 391.58L91.20 404.24L91.45 399.24L91.70 413.94L91.95 408.26L92.20 423.12L92.45 417.37L92.70 431.17L92.95 424.41L93.20 440.91L93.45 430.74L93.70 445.67L93.95 436.55L94.20 449.00L94.45 434.73L94.70 446.51L94.95 431.56L95.20 441.09L95.45 428.71L95.70 437.79L95.95 424.16L96.20 437.71L96.45 421.07L96.70 436.93L96.95 423.98L97.20 439.45L97.45 426.55L97.70 441.62L97.95 429.76L98.20 445.00L98.45 432.82L98.70 445.44L98.95 435.13L99.20 445.91L99.45 432.35L99.70 444.55L99.95 428.59L100.20 440.85L100.45 424.74L100.70 437.17L100.95 422.08L101.20 433.88L101.45 416.70L101.70 425.98L101.95 412.47L102.20 421.24L102.45 409.01L102.70 419.37L102.95 403.74L103.20 415.26L103.45 402.08L103.70 415.42L103.95 406.12L104.20 421.26L104.45 410.09L104.70 421.79L104.95 413.86L105.20 422.86L105.45 410.57L105.70 420.98L105.95 406.45L106.20 414.76L106.45 403.22L106.70 410.59L106.95 398.69L107.20 412.45L107.45 400.61L107.70 412.29L107.95 402.03L108.20 413.86L108.45 402.93L108.70 411.95L108.95 401.50L109.20 410.64L109.45 398.53L109.70 408.77L109.95 396.30L110.20 408.31L110.45 392.94L110.70 404.58L110.95 391.27L111.20 399.76L111.45 387.57L111.70 399.39L111.95 383.47L112.20 393.35L112.45 379.08L112.70 391.01L112.95 375.95L113.20 384.65L113.45 372.35L113.70 381.15L113.95 367.52L114.20 378.49L114.45 365.08L114.70 378.32L114.95 361.68L115.20 371.18L115.45 358.40L115.70 368.96L115.95 355.67L116.20 365.48L116.45 352.47L116.70 360.50L116.95 348.49L117.20 358.22L117.45 344.83L117.70 355.12L117.95 341.88L118.20 349.28L118.45 337.80L118.70 349.21L118.95 336.01L119.20 343.35L119.45 332.85L119.70 341.45L119.95 329.95L120.20 340.29L120.45 327.06L120.70 335.66L120.95 324.45L121.20 331.05L121.45 320.25L121.70 326.00L121.95 316.28L122.20 324.14L122.45 313.48L122.70 322.96L122.95 310.87L123.20 319.52L123.45 308.36L123.70 316.17L123.95 304.87L124.20 311.65L124.45 302.25L124.70 310.06L124.95 300.16L125.20 306.97L125.45 297.63L125.70 305.11L125.95 295.71L126.20 302.56L126.45 293.38L126.70 298.72L126.95 290.30L127.20 295.74L127.45 287.84L127.70 292.18L127.95 284.47L128.20 290.74L128.45 280.67L128.70 284.99L128.95 278.07L129.20 283.41L129.45 274.54L129.70 279.18L129.95 271.51L130.20 277.27L130.45 268.70L130.70 273.07L130.95 266.17L131.20 271.69L131.45 263.32L131.70 268.97L131.95 260.12L132.20 264.79L132.45 257.53L132.70 262.21L132.95 253.96L133.20 259.14L133.45 250.15L133.70 254.61L133.95 246.19L134.20 252.03L134.45 242.70L134.70 247.10L134.95 239.86L135.20 243.48L135.45 236.54L135.70 240.97L135.95 233.62L136.20 237.80L136.45 230.12L136.70 236.09L136.95 227.12L137.20 231.59L137.45 224.27L137.70 229.90L137.95 221.03L138.20 227.06L138.45 217.71L138.70 222.52L138.95 214.63L139.20 219.79L139.45 211.32L139.70 215.60L139.95 208.31L140.20 213.55L140.45 205.25L140.70 209.09L140.95 202.45L141.20 208.08L141.45 199.38L141.70 205.33L141.95 197.11L142.20 203.01L142.45 194.14L142.70 199.23L142.95 191.22L143.20 196.74L143.45 188.42L143.70 192.72L143.95 185.78L144.20 190.75L144.45 182.59L144.70 187.59L144.95 179.94L145.20 184.54L145.45 176.33L145.70 181.16L145.95 174.41L146.20 179.23L146.45 171.12L146.70 175.95L146.95 168.17L147.20 173.88L147.45 165.21L147.70 169.58L147.95 162.02L148.20 167.44L148.45 158.29L148.70 162.24L148.95 155.06L149.20 159.81L149.45 150.97L149.70 155.09L149.95 147.14L150.20 152.01L150.45 143.56L150.70 147.99L150.95 140.18L151.20 144.95L151.45 137.19L151.70 142.85L151.95 134.24L152.20 139.56L152.45 130.95L152.70 136.33L152.95 127.55L153.20 131.41L153.45 124.37L153.70 128.01L153.95 120.24L154.20 125.60L154.45 116.18L154.70 120.88L154.95 111.86L155.20 116.55L155.45 107.77L155.70 112.58L155.95 104.55L156.20 109.28L156.45 100.25L156.70 104.61L156.95 96.50L157.20 102.03L157.45 93.34L157.70 99.00L157.95 89.60L158.20 94.04L158.45 86.45L158.70 91.26L158.95 82.17L159.20 86.25L159.45 78.71L159.70 83.67L159.95 74.57L160.20 78.02L160.45 70.87L160.70 75.97L160.95 68.13L161.20 71.64L161.45 65.27L161.70 69.76L161.95 62.46L162.20 67.48L162.45 59.80L162.70 64.62L162.95 57.51L163.20 62.34L163.45 55.39L163.70 60.37L163.95 53.30L164.20 57.57L164.45 50.83L164.70 54.67L164.95 48.57L165.20 53.12L165.45 47.29L165.70 51.57L165.95 46.33L166.20 51.21L166.45 45.70L166.70 51.13L166.95 46.78L167.20 51.85L167.45 47.51L167.70 53.08L167.95 48.41L168.20 55.37L168.45 50.59L168.70 57.73L168.95 51.62L169.20 59.47L169.45 53.71L169.70 61.46L169.95 54.59L170.20 61.10L170.45 54.94L170.70 62.50L170.95 55.87L171.20 62.26L171.45 56.47L171.70 63.19L171.95 57.06L172.20 63.25L172.45 57.73L172.70 65.48L172.95 58.97L173.20 65.14L173.45 59.40L173.70 66.02L173.95 60.40L174.20 66.61L174.45 61.09L174.70 67.70L174.95 61.83L175.20 68.34L175.45 61.91L175.70 67.53L175.95 61.35L176.20 68.38L176.45 61.26L176.70 67.38L176.95 61.25L177.20 67.01L177.45 61.39L177.70 68.42L177.95 60.92L178.20 68.05L178.45 61.26L178.70 68.79L178.95 62.16L179.20 67.94L179.45 61.97L179.70 68.79L179.95 62.29L180.20 68.72L180.45 62.65L180.70 67.47L180.95 61.95L181.20 69.23L181.45 61.71L181.70 67.33L181.95 61.62L182.20 68.47L182.45 61.68L182.70 67.81L182.95 61.50L183.20 68.44L183.45 61.85L183.70 67.82L183.95 61.68L184.20 68.94L184.45 62.33L184.70 69.53L184.95 62.11L185.20 68.31L185.45 62.36L185.70 67.73L185.95 62.32L186.20 69.11L186.45 61.66L186.70 67.72L186.95 61.79L187.20 67.70L187.45 61.81L187.70 67.97L187.95 61.10L188.20 67.84L188.45 61.71L188.70 68.52L188.95 61.52L189.20 67.47L189.45 62.01L189.70 68.38L189.95 61.99L190.20 67.92L190.45 62.72L190.70 68.47L190.95 62.49L191.20 68.66L191.45 61.84L191.70 67.48L191.95 62.09L192.20 68.91L192.45 61.50L192.70 67.65L192.95 61.13L193.20 68.17L193.45 61.41L193.70 68.45L193.95 61.87L194.20 67.40L194.45 62.14L194.70 68.36L194.95 62.15L195.20 68.38L195.45 62.13L195.70 69.67L195.95 62.70L196.20 68.81L196.45 62.08L196.70 67.79L196.95 61.74L197.20 67.25L197.45 61.51L197.70 67.55L197.95 61.28L198.20 66.85L198.45 61.50L198.70 68.47L198.95 61.42L199.20 68.45L199.45 61.40L199.70 68.72L199.95 62.34L200.20 69.32L200.45 62.12L200.70 67.95L200.95 62.45L201.20 69.02L201.45 62.54L201.70 69.58L201.95 62.22L202.20 68.29L202.45 62.19L202.70 68.33L202.95 61.79L203.20 67.09L203.45 61.11L203.70 66.93L203.95 61.43L204.20 68.57L204.45 61.42L204.70 67.29L204.95 61.42L205.20 68.29L205.45 62.32L205.70 67.95L205.95 62.53L206.20 68.26L206.45 62.26L206.70 67.69L206.95 62.19L207.20 68.45L207.45 62.09L207.70 67.58L207.95 61.43L208.20 68.65L208.45 61.68L208.70 66.84L208.95 61.39L209.20 68.26L209.45 61.51L209.70 68.31L209.95 61.85L210.20 67.40L210.45 62.22L210.70 69.22L210.95 62.09L211.20 69.19L211.45 62.64L211.70 68.34L211.95 62.04L212.20 67.99L212.45 61.83L212.70 68.70L212.95 61.69L213.20 68.43L213.45 61.91L213.70 67.10L213.95 61.27L214.20 68.10L214.45 61.46L214.70 68.40L214.95 61.74L215.20 68.72L215.45 61.99L215.70 68.21L215.95 61.64L216.20 69.25L216.45 62.56L216.70 68.36L216.95 62.23L217.20 67.72L217.45 61.96L217.70 69.41L217.95 61.72L218.20 68.75L218.45 61.42L218.70 67.48L218.95 61.61L219.20 66.94L219.45 61.62L219.70 68.19L219.95 61.41L220.20 68.80L220.45 61.31L220.70 68.71L220.95 62.24L221.20 69.27L221.45 62.18L221.70 69.23L221.95 62.70L222.20 69.53L222.45 62.47L222.70 69.37L222.95 62.21L223.20 67.52L223.45 62.27L223.70 68.72L223.95 61.34L224.20 66.82L224.45 61.52L224.70 68.58L224.95 61.60L225.20 67.43L225.45 61.80L225.70 67.91L225.95 61.40L226.20 68.22L226.45 61.71L226.70 68.18L226.95 62.39L227.20 68.39L227.45 62.21L227.70 68.10L227.95 62.01L228.20 68.73L228.45 61.93L228.70 68.69L228.95 61.71L229.20 68.25L229.45 61.91L229.70 66.79L229.95 61.61L230.20 66.66L230.45 61.22L230.70 67.36L230.95 61.51L231.20 67.31L231.45 61.71L231.70 68.47L231.95 61.69L232.20 68.96L232.45 61.97L232.70 67.63L232.95 62.11L233.20 68.26L233.45 62.14L233.70 69.45L233.95 61.74L234.20 67.51L234.45 62.07L234.70 68.35L234.95 61.58L235.20 68.43L235.45 61.56L235.70 67.49L235.95 61.56L236.20 67.20L236.45 61.32L236.70 67.72L236.95 61.99L237.20 68.28L237.45 61.98L237.70 69.05L237.95 62.33L238.20 68.17L238.45 62.49L238.70 68.62L238.95 61.89L239.20 68.93L239.45 61.69L239.70 67.61L239.95 61.83L240.20 68.34L240.45 61.59L240.70 67.32L240.95 61.40L241.20 67.22L241.45 61.26L241.70 67.81L241.95 61.87L242.20 67.38L242.45 62.30L242.70 67.62L242.95 62.52L243.20 69.18L243.45 62.31L243.70 68.27L243.95 62.46L244.20 69.49L244.45 61.95L244.70 67.19L244.95 61.76L245.20 68.30L245.45 61.16L245.70 68.56L245.95 61.60L246.20 67.87L246.45 61.74L246.70 68.27L246.95 61.88L247.20 67.95L247.45 62.09L247.70 68.84L247.95 61.77L248.20 68.01L248.45 62.36L248.70 68.68L248.95 62.20L249.20 69.50L249.45 62.48L249.70 69.07L249.95 62.11L250.20 68.52L250.45 61.88L250.70 68.76L250.95 61.33L251.20 67.67L251.45 61.31L251.70 68.35L251.95 61.60L252.20 68.19L252.45 61.59L252.70 68.93L252.95 61.93L253.20 68.13L253.45 62.29L253.70 69.44L253.95 62.26L254.20 69.59L254.45 62.34L254.70 69.05L254.95 62.23L255.20 68.55L255.45 61.56L255.70 67.54L255.95 61.80L256.20 67.45L256.45 60.96L256.70 67.52L256.95 61.25L257.20 67.51L257.45 61.46L257.70 68.77L257.95 61.62L258.20 67.78L258.45 62.18L258.70 68.85L258.95 62.46L259.20 68.57L259.45 62.31L259.70 69.72L259.95 62.42L260.20 68.92L260.45 62.10L260.70 68.82L260.95 61.31L261.20 66.98L261.45 61.25L261.70 68.45L261.95 61.50L262.20 67.72L262.45 61.35L262.70 68.60L262.95 61.92L263.20 68.00L263.45 61.79L263.70 69.40L263.95 62.17L264.20 69.60L264.45 62.08L264.70 69.56L264.95 62.41L265.20 69.17L265.45 62.08L265.70 67.92L265.95 61.71L266.20 68.83L266.45 61.69L266.70 66.86L266.95 61.04L267.20 66.89L267.45 61.00L267.70 68.16L267.95 61.63L268.20 68.47L268.45 61.65L268.70 69.03L268.95 62.01L269.20 68.10L269.45 62.46L269.70 69.54L269.95 62.41L270.20 68.15L270.45 62.03L270.70 69.23L270.95 61.71L271.20 68.68L271.45 61.47L271.70 67.87L271.95 61.24L272.20 67.52L272.45 61.08L272.70 66.86L272.95 61.32L273.20 68.24L273.45 61.56L273.70 67.23L273.95 61.67L274.20 69.26L274.45 61.72L274.70 68.64L274.95 62.17L275.20 69.57L275.45 62.42L275.70 69.21L275.95 62.41L276.20 67.90L276.45 61.93L276.70 69.11L276.95 61.98L277.20 67.53L277.45 61.46L277.70 67.22L277.95 61.13L278.20 66.69L278.45 61.23L278.70 68.11L278.95 61.82L279.20 67.50L279.45 61.93L279.70 67.49L279.95 62.26L280.20 68.82L280.45 62.55L280.70 67.60L280.95 62.34L281.20 69.37L281.45 62.30L281.70 68.56L281.95 62.03L282.20 68.78L282.45 61.78L282.70 66.92L282.95 60.96L283.20 68.03L283.45 60.95L283.70 67.35L283.95 61.39L284.20 67.67L284.45 61.80L284.70 67.51L284.95 62.35L285.20 69.39L285.45 62.59L285.70 68.94L285.95 62.30L286.20 69.28L286.45 62.23L286.70 67.76L286.95 62.13L287.20 67.71L287.45 61.97L287.70 68.56L287.95 61.23L288.20 68.54L288.45 61.38L288.70 67.29L288.95 61.13L289.20 68.16L289.45 61.29L289.70 68.86L289.95 61.47L290.20 68.09L290.45 62.11L290.70 68.26L290.95 62.12L291.20 69.23L291.45 62.17L291.70 69.01L291.95 62.43L292.20 67.87L292.45 61.72L292.70 68.14L292.95 61.27L293.20 67.18L293.45 60.95L293.70 66.84L293.95 60.96L294.20 68.06L294.45 61.34L294.70 69.00L294.95 61.66L295.20 68.03L295.45 62.33L295.70 69.04L295.95 62.11L296.20 68.55L296.45 62.03L296.70 69.71L296.95 61.82L297.20 68.81L297.45 62.27L297.70 69.22L297.95 61.47L298.20 67.44L298.45 61.81L298.70 67.01L298.95 61.06L299.20 67.57L299.45 61.43L299.70 68.45L299.95 61.12L300.20 67.70L300.45 61.50L300.70 69.33L300.95 62.43L301.20 68.28L301.45 62.50L301.70 67.77L301.95 62.51L302.20 69.60L302.45 62.07L302.70 67.67L302.95 62.03L303.20 68.30L303.45 61.72L303.70 67.86L303.95 61.62L304.20 67.60L304.45 61.12L304.70 67.19L304.95 61.20L305.20 67.33L305.45 61.52L305.70 68.88L305.95 61.50L306.20 67.37L306.45 62.48L306.70 69.12L306.95 62.35L307.20 69.19L307.45 62.03L307.70 69.32L307.95 62.04L308.20 67.32L308.45 61.62L308.70 68.22L308.95 61.68L309.20 66.90L309.45 61.40L309.70 68.27L309.95 61.09L310.20 66.97L310.45 61.51L310.70 67.22L310.95 61.82L311.20 68.77L311.45 61.88L311.70 69.05L311.95 62.25L312.20 68.81L312.45 62.38L312.70 67.67L312.95 62.47L313.20 68.82L313.45 61.80L313.70 67.45L313.95 61.29L314.20 68.25L314.45 61.09L314.70 68.59L314.95 61.62L315.20 68.04L315.45 61.45L315.70 67.92L315.95 61.33L316.20 67.42L316.45 61.52L316.70 67.68L316.95 62.44L317.20 68.83L317.45 62.60L317.70 67.65L317.95 62.36L318.20 69.04L318.45 62.22L318.70 67.44L318.95 61.97L319.20 68.71L319.45 61.18L319.70 68.17L319.95 61.12L320.20 68.41L320.45 61.06L320.70 66.73L320.95 61.04L321.20 67.90L321.45 61.71L321.70 67.37L321.95 61.77L322.20 68.58L322.45 62.11L322.70 68.53L322.95 62.39L323.20 69.12L323.45 62.01L323.70 69.36L323.95 61.92L324.20 68.20L324.45 61.70L324.70 67.84L324.95 61.55L325.20 68.20L325.45 61.34L325.70 67.91L325.95 61.03L326.20 67.06L326.45 61.24L326.70 68.72L326.95 61.80L327.20 67.76L327.45 61.65L327.70 68.54L327.95 62.06L328.20 69.38L328.45 61.94L328.70 69.27L328.95 62.04L329.20 69.04L329.45 61.86L329.70 67.71L329.95 61.26L330.20 68.44L330.45 61.51L330.70 66.90L330.95 61.62L331.20 67.10L331.45 61.21L331.70 67.09L331.95 61.57L332.20 68.24L332.45 61.82L332.70 67.39L332.95 61.72L333.20 67.91L333.45 62.40L333.70 68.59L333.95 62.26L334.20 67.67L334.45 61.80L334.70 67.91L334.95 61.68L335.20 68.04L335.45 61.25L335.70 66.95L335.95 61.36L336.20 67.24L336.45 61.34L336.70 67.57L336.95 61.70L337.20 67.84L337.45 61.89L337.70 67.67L337.95 61.58L338.20 68.79L338.45 62.12L338.70 68.63L338.95 62.27L339.20 69.02L339.45 61.77L339.70 67.39L339.95 61.93L340.20 68.16L340.45 61.89L340.70 68.54L340.95 61.70L341.20 66.90L341.45 61.37L341.70 67.44L341.95 61.24L342.20 66.82L342.45 61.31L342.70 67.17L342.95 61.95L343.20 68.58L343.45 62.13L343.70 69.38L343.95 62.00L344.20 68.22L344.45 62.54L344.70 68.99L344.95 61.96L345.20 68.31L345.45 61.79L345.70 67.64L345.95 61.75L346.20 68.55L346.45 61.52L346.70 68.58L346.95 61.00L347.20 66.89L347.45 61.12L347.70 68.34L347.95 61.91L348.20 67.62L348.45 62.03L348.70 68.57L348.95 62.28L349.20 69.08L349.45 62.09L349.70 67.94L349.95 61.86L350.20 69.28L350.45 61.99L350.70 68.87L350.95 62.01L351.20 68.87L351.45 61.71L351.70 67.31L351.95 60.84L352.20 67.71L352.45 60.91L352.70 67.53L352.95 61.29L353.20 68.70L353.45 61.80L353.70 67.80L353.95 61.65L354.20 69.39L354.45 62.15L354.70 69.48L354.95 62.42L355.20 69.28L355.45 62.21L355.70 67.61L355.95 61.93L356.20 69.14L356.45 61.81L356.70 68.14L356.95 61.08L357.20 68.58L357.45 61.52L357.70 66.81L357.95 61.03L358.20 67.13L358.45 61.48L358.70 67.49L358.95 61.91L359.20 69.28L359.45 62.08L359.70 68.89L359.95 62.51L360.20 67.96L360.45 62.08L360.70 69.40L360.95 61.76L361.20 67.52L361.45 61.37L361.70 68.29L361.95 61.71L362.20 67.57L362.45 61.39L362.70 67.02L362.95 61.11L363.20 68.55L363.45 61.03L363.70 68.77L363.95 61.46L364.20 68.25L364.45 61.82L364.70 67.94L364.95 61.80L365.20 69.54L365.45 61.95L365.70 69.49L365.95 61.88L366.20 67.57L366.45 62.11L366.70 67.74L366.95 61.70L367.20 67.17L367.45 61.27L367.70 67.86L367.95 61.06L368.20 66.91L368.45 61.18L368.70 67.08L368.95 61.52L369.20 68.87L369.45 61.59L369.70 68.08L369.95 62.38L370.20 67.53L370.45 62.55L370.70 68.22L370.95 62.03L371.20 68.50L371.45 61.76L371.70 67.81L371.95 61.97L372.20 67.79L372.45 61.62L372.70 67.80L372.95 61.02L373.20 67.87L373.45 61.57L373.70 67.34L373.95 61.26L374.20 67.31L374.45 61.96L374.70 67.48L374.95 62.03L375.20 69.05L375.45 61.80L375.70 67.53L375.95 62.26L376.20 69.05L376.45 62.26L376.70 67.78L376.95 61.74L377.20 67.79L377.45 61.61L377.70 68.31L377.95 61.43L378.20 66.71L378.45 60.89L378.70 68.05L378.95 61.55L379.20 67.79L379.45 61.37L379.70 67.79L379.95 61.89L380.20 69.10L380.45 61.86L380.70 67.52L380.95 62.05L381.20 67.68L381.45 62.39L381.70 68.59L381.95 62.25L382.20 67.30L382.45 61.47L382.70 68.87L382.95 61.53L383.20 67.41L383.45 61.56L383.70 67.65L383.95 61.44L384.20 68.47L384.45 61.11L384.70 67.23L384.95 61.74L385.20 68.04L385.45 61.97L385.70 69.36L385.95 62.41L386.20 69.25L386.45 62.01L386.70 68.07L386.95 62.31L387.20 67.98L387.45 61.99L387.70 67.63L387.95 61.47L388.20 67.25L388.45 61.77L388.70 67.72L388.95 61.00L389.20 67.14L389.45 61.03L389.70 67.16L389.95 61.60L390.20 67.05L390.45 61.65L390.70 68.66L390.95 61.67L391.20 67.41L391.45 62.25L391.70 69.47L391.95 62.09L392.20 69.66L392.45 62.14L392.70 69.02L392.95 61.56L393.20 68.33L393.45 61.67L393.70 68.25L393.95 61.00L394.20 66.80L394.45 60.92L394.70 66.95L394.95 61.23L395.20 67.46L395.45 61.15L395.70 67.35L395.95 61.64L396.20 68.18L396.45 61.92L396.70 68.07L396.95 62.31L397.20 68.47L397.45 62.21L397.70 67.73L397.95 62.17L398.20 68.10L398.45 61.40L398.70 68.92L398.95 61.42L399.20 68.10L399.45 61.57L399.70 68.62L399.95 61.00L400.20 67.24L400.45 61.66L400.70 68.88L400.95 61.76L401.20 68.48L401.45 61.51L401.70 68.66L401.95 62.41L402.20 69.19L402.45 62.24L402.70 69.22L402.95 62.36L403.20 68.76L403.45 61.84L403.70 68.37L403.95 61.91L404.20 67.75L404.45 61.07L404.70 66.91L404.95 61.15L405.20 67.14L405.45 61.33L405.70 68.08L405.95 61.03L406.20 67.83L406.45 61.28L406.70 67.45L406.95 61.68L407.20 68.55L407.45 61.87L407.70 67.89L407.95 62.15L408.20 67.91L408.45 61.93L408.70 67.33L408.95 61.56L409.20 67.22L409.45 61.74L409.70 66.91L409.95 61.02L410.20 66.66L410.45 61.15L410.70 67.69L410.95 61.50L411.20 67.57L411.45 61.10L411.70 67.73L411.95 61.78L412.20 67.98L412.45 62.21L412.70 67.55L412.95 61.88L413.20 68.06L413.45 61.74L413.70 69.43L413.95 62.05L414.20 69.20L414.45 61.24L414.70 67.66L414.95 61.59L415.20 67.17L415.45 61.08L415.70 67.03L415.95 60.88L416.20 67.52L416.45 61.64L416.70 67.71L416.95 61.36L417.20 69.06L417.45 61.63L417.70 68.77L417.95 61.79L418.20 68.65L418.45 61.76L418.70 68.64L418.95 62.29L419.20 68.85L419.45 61.42L419.70 67.49L419.95 61.63L420.20 68.80L420.45 61.39L420.70 68.09L420.95 61.52L421.20 68.67L421.45 61.29L421.70 66.87L421.95 61.04L422.20 68.36L422.45 61.92L422.70 67.62L422.95 62.31L423.20 68.12L423.45 61.94L423.70 67.59L423.95 61.80L424.20 67.55L424.45 61.89L424.70 69.15L424.95 61.40L425.20 68.43L425.45 61.07L425.70 68.25L425.95 61.34L426.20 66.69L426.45 61.32L426.70 67.68L426.95 61.23L427.20 67.38L427.45 61.64L427.70 67.20L427.95 61.73L428.20 68.86L428.45 61.86L428.70 69.12L428.95 62.50L429.20 68.98L429.45 62.27L429.70 67.59L429.95 62.20L430.20 67.27L430.45 61.67L430.70 67.69L430.95 61.60L431.20 67.72L431.45 60.91L431.70 67.00L431.95 60.82L432.20 66.75L432.45 61.21L432.70 67.81L432.95 61.79L433.20 69.03L433.45 61.64L433.70 69.26L433.95 62.26L434.20 67.64L434.45 61.78L434.70 69.15L434.95 61.70L435.20 69.03L435.45 61.74L435.70 68.25L435.95 61.62L436.20 67.03L436.45 61.04L436.70 67.02L436.95 61.29L437.20 67.39L437.45 61.62L437.70 67.88L437.95 61.81L438.20 67.06L438.45 61.62L438.70 69.30L438.95 62.32L439.20 69.17L439.45 61.84L439.70 68.55L439.95 61.77L440.20 69.51L440.45 61.51L440.70 68.31L440.95 61.73L441.20 67.24L441.45 61.07L441.70 67.87L441.95 61.13L442.20 67.00L442.45 60.98L442.70 68.47L442.95 61.07L443.20 68.92L443.45 61.54L443.70 67.39L443.95 61.84L444.20 68.84L444.45 62.20L444.70 68.40L444.95 61.84L445.20 68.16L445.45 62.20L445.70 69.37L445.95 61.92L446.20 68.35L446.45 61.57L446.70 67.88L446.95 61.58L447.20 67.07L447.45 61.40L447.70 66.99L447.95 60.90L448.20 67.63L448.45 61.00L448.70 67.26L448.95 61.62L449.20 68.50L449.45 62.22L449.70 67.95L449.95 62.45L450.20 68.57L450.45 62.29L450.70 68.53L450.95 61.63L451.20 68.64L451.45 61.56L451.70 67.82L451.95 61.39L452.20 68.80L452.45 60.96L452.70 66.87L452.95 61.52L453.20 68.32L453.45 61.62L453.70 68.30L453.95 61.63L454.20 68.63L454.45 62.05L454.70 67.77L454.95 61.88L455.20 67.71L455.45 62.09L455.70 68.12L455.95 61.65L456.20 67.77L456.45 62.17L456.70 68.61L456.95 61.18L457.20 66.92L457.45 61.30L457.70 67.40L457.95 60.73L458.20 68.21L458.45 61.28L458.70 68.53L458.95 61.11L459.20 66.95L459.45 61.98L459.70 68.44L459.95 61.58L460.20 68.57L460.45 62.03L460.70 67.73L460.95 62.07L461.20 68.67L461.45 61.58L461.70 68.91L461.95 61.52L462.20 68.55L462.45 61.09L462.70 68.46L462.95 60.89L463.20 68.06L463.45 60.98L463.70 67.65L463.95 60.82L464.20 68.20L464.45 61.65L464.70 68.62L464.95 62.04L465.20 68.57L465.45 62.08L465.70 69.28L465.95 62.16L466.20 69.05L466.45 62.26L466.70 68.13L466.95 62.25L467.20 67.55L467.45 61.61L467.70 68.27L467.95 61.25L468.20 66.80L468.45 61.45L468.70 67.57L468.95 61.04L469.20 67.08L469.45 61.53L469.70 68.16L469.95 61.51L470.20 68.89L470.45 61.45L470.70 68.91L470.95 62.03L471.20 69.18L471.45 61.89L471.70 68.18L471.95 62.35L472.20 67.56L472.45 61.79L472.70 68.77L472.95 61.09" stroke="#0000ff" stroke-width="2.2" stroke-dasharray="1.6 1.3"/>
<path d="M172.20 63.82V70.71M174.70 67.41V71.92M175.95 67.27V75.02M178.95 67.85V74.70M180.20 63.52V59.13M180.45 63.45V59.87M181.95 67.35V75.51M186.95 62.80V59.94M192.95 62.56V58.03M193.20 67.24V74.12M193.95 67.45V72.40M194.70 67.88V75.44M194.95 68.01V73.52M200.20 67.98V75.46M201.20 68.22V76.73M202.45 67.70V74.71M204.70 67.53V73.09M206.70 68.19V75.09M207.70 67.73V72.53M207.95 67.58V74.60M208.45 67.34V72.37M208.95 67.23V71.63M210.70 67.93V73.09M212.70 67.90V76.21M212.95 67.75V72.36M216.20 63.33V59.18M217.70 63.35V59.15M219.70 67.22V71.57M222.45 68.21V75.81M223.20 63.25V59.11M228.45 67.97V74.85M228.95 62.99V59.67M235.70 67.22V74.63M239.45 67.74V76.08M242.45 67.88V75.91M243.70 63.49V60.18M246.20 67.21V71.30M248.95 63.49V60.63M249.70 67.94V72.47M256.45 62.52V58.55M270.20 63.46V59.80M271.70 67.47V72.87M272.20 62.54V59.46M276.45 67.78V73.60M277.70 67.21V71.33M279.45 67.81V75.54M283.45 62.49V57.87M286.70 63.24V59.66M287.70 67.41V75.08M287.95 67.30V71.43M290.95 68.17V72.44M292.70 67.57V72.87M294.45 67.32V73.69M299.95 67.40V72.50M300.20 67.54V72.76M300.45 67.68V73.18M301.70 63.45V58.75M302.20 63.39V59.64M305.70 67.65V72.34M306.45 68.05V76.37M307.20 63.44V59.34M307.95 67.93V73.82M309.70 67.18V72.29M309.95 67.20V73.08M310.45 62.62V58.96M312.20 63.43V59.64M313.20 67.96V73.66M314.95 67.18V73.80M315.20 62.45V58.96M320.70 67.22V73.44M322.70 68.15V75.40M322.95 68.17V76.18M325.20 67.23V72.76M325.45 67.18V74.79M327.20 67.82V75.28M328.20 68.17V73.80M328.45 68.16V76.38M329.70 67.61V73.27M330.70 67.19V73.97M332.45 67.78V75.61M339.70 67.94V76.30M341.70 62.43V59.40M343.95 68.14V76.14M344.45 68.14V75.25M347.45 67.29V73.66M350.45 63.11V59.86M350.95 67.57V75.81M352.95 67.38V71.62M361.70 67.48V73.81M362.20 62.49V59.36M362.70 67.15V72.29M363.45 67.33V74.51M364.70 68.00V76.32M369.45 67.71V75.84M372.70 67.28V73.27M372.95 67.20V73.22M373.95 67.28V74.25M374.20 67.39V72.16M375.20 63.19V60.19M379.70 67.50V72.13M380.70 68.03V72.41M381.70 68.08V72.24M381.95 67.99V74.29M386.20 68.09V75.98M387.95 67.61V72.49M390.20 62.67V59.46M392.45 68.03V74.28M393.20 62.87V59.31M393.95 67.25V73.31M395.45 62.64V58.01M396.95 68.12V73.66M398.95 67.38V71.87M400.70 67.38V75.86M403.70 67.69V72.19M404.70 67.19V73.01M406.70 67.78V76.18M408.20 68.07V73.20M410.95 67.22V73.04M417.45 63.08V59.63M418.20 68.12V72.54M424.95 62.87V58.82M427.20 67.37V73.49M437.20 67.14V71.32M437.45 67.21V75.69M438.95 63.20V59.73M440.95 67.59V73.51M443.20 62.62V58.54M447.70 67.12V74.12M448.20 62.47V58.57M448.45 67.38V73.43M451.70 67.49V72.91M451.95 62.56V58.58M453.70 67.35V71.90M453.95 67.49V75.84M454.20 67.64V73.04M454.70 67.91V75.13M455.45 68.11V74.08M458.70 67.22V74.48M461.70 67.83V75.34M461.95 67.69V73.77M470.70 63.15V60.40" stroke="#0000ff" stroke-width="1.1"/>
<path d="M88.45 476.00L88.55 354.50L88.90 355.26L89.10 362.24L89.30 363.44L89.50 371.57L89.70 371.44L89.90 380.85L90.10 378.74L90.30 387.91L90.50 384.39L90.70 394.66L90.90 389.49L91.10 400.96L91.30 394.80L91.50 407.91L91.70 401.50L91.90 416.10L92.10 408.22L92.30 424.15L92.50 415.27L92.70 430.53L92.90 420.28L93.10 436.11L93.30 425.59L93.50 441.93L93.70 431.46L93.90 446.90L94.10 434.45L94.30 444.01L94.50 428.46L94.70 438.50L94.90 422.30L95.10 432.68L95.30 416.94L95.50 427.41L95.70 410.68L95.90 421.58L96.10 404.57L96.30 415.53L96.50 399.86L96.70 410.37L96.90 393.78L97.10 405.25L97.30 387.56L97.50 399.17L97.70 386.04L97.90 402.03L98.10 389.35L98.30 406.39L98.50 393.93L98.70 410.74L98.90 397.14L99.10 414.31L99.30 401.05L99.50 418.59L99.70 406.02L99.90 422.46L100.10 409.22L100.30 425.50L100.50 412.62L100.70 424.82L100.90 406.52L101.10 417.83L101.30 399.90L101.50 411.02L101.70 393.59L101.90 404.21L102.10 387.59L102.30 397.66L102.50 380.61L102.70 392.53L102.90 374.12L103.10 384.96L103.30 368.12L103.50 378.67L103.70 366.51L103.90 381.97L104.10 369.76L104.30 385.58L104.50 373.47L104.70 389.18L104.90 376.30L105.10 391.62L105.30 378.86L105.50 395.74L105.70 382.99L105.90 399.01L106.10 386.15L106.30 402.54L106.50 388.47L106.70 405.47L106.90 391.83L107.10 405.81L107.30 387.43L107.50 397.99L107.70 378.57L107.90 389.31L108.10 370.83L108.30 381.84L108.50 363.07L108.70 374.38L108.90 355.45L109.10 366.14L109.30 348.24L109.50 358.99L109.70 340.25L109.90 351.61L110.10 336.41L110.30 350.90L110.50 339.55L110.70 354.94L110.90 342.01L111.10 357.64L111.30 345.90L111.50 356.21L111.70 340.97L111.90 350.65L112.10 335.68L112.30 345.87L112.50 330.21L112.70 340.67L112.90 325.40L113.10 334.67L113.30 319.86L113.50 330.55L113.70 314.36L113.90 324.96L114.10 310.23L114.30 320.49L114.50 305.06L114.70 315.19L114.90 299.29L115.10 309.92L115.30 294.88L115.50 305.21L115.70 291.81L115.90 308.50L116.10 298.27L116.30 314.24L116.50 303.97L116.70 319.05L116.90 309.83L117.10 324.96L117.30 312.88L117.50 322.32L117.70 306.23L117.90 315.67L118.10 299.58L118.30 309.17L118.50 294.56L118.70 302.52L118.90 288.60L119.10 296.50L119.30 281.66L119.50 290.45L119.70 276.86L119.90 284.27L120.10 272.52L120.30 282.13L120.50 270.33L120.70 280.20L120.90 268.45L121.10 277.82L121.30 267.13L121.50 275.32L121.70 265.00L121.90 273.28L122.10 262.72L122.30 270.85L122.50 260.29L122.70 267.81L122.90 258.20L123.10 265.36L123.30 255.70L123.50 261.95L123.70 253.03L123.90 259.33L124.10 250.27L124.30 256.41L124.50 247.20L124.70 253.86L124.90 244.97L125.10 250.56L125.30 241.39L125.50 247.36L125.70 237.84L125.90 242.86L126.10 233.45L126.30 239.09L126.50 229.54L126.70 235.05L126.90 225.42L127.10 231.14L127.30 222.04L127.50 227.53L127.70 218.67L127.90 224.35L128.10 215.16L128.30 220.87L128.50 212.23L128.70 217.83L128.90 208.77L129.10 214.36L129.30 205.14L129.50 211.08L129.70 201.95L129.90 207.36L130.10 198.61L130.30 204.54L130.50 195.28L130.70 201.57L130.90 192.29L131.10 198.48L131.30 189.20L131.50 195.21L131.70 186.50L131.90 191.80L132.10 182.89L132.30 189.01L132.50 179.79L132.70 185.04L132.90 176.32L133.10 182.13L133.30 173.30L133.50 178.55L133.70 169.88L133.90 175.90L134.10 167.04L134.30 173.14L134.50 164.86L134.70 170.14L134.90 161.72L135.10 167.92L135.30 158.96L135.50 165.31L135.70 156.96L135.90 162.99L136.10 154.02L136.30 160.12L136.50 152.03L136.70 157.91L136.90 148.92L137.10 155.18L137.30 146.95L137.50 152.98L137.70 143.81L137.90 150.11L138.10 141.53L138.30 147.42L138.50 138.66L138.70 144.85L138.90 136.19L139.10 141.65L139.30 133.37L139.50 138.89L139.70 130.68L139.90 136.23L140.10 127.89L140.30 133.86L140.50 125.13L140.70 130.99L140.90 122.77L141.10 128.07L141.30 120.01L141.50 125.86L141.70 117.54L141.90 123.24L142.10 114.69L142.30 120.66L142.50 111.72L142.70 117.85L142.90 108.82L143.10 114.91L143.30 106.16L143.50 111.98L143.70 103.41L143.90 108.90L144.10 100.86L144.30 106.27L144.50 97.84L144.70 103.34L144.90 94.55L145.10 100.47L145.30 91.40L145.50 96.96L145.70 86.87L145.90 92.20L146.10 83.20L146.30 88.45L146.50 78.79L146.70 84.07L146.90 74.91L147.10 79.47L147.30 70.93L147.50 76.66L147.70 67.82L147.90 74.12L148.10 65.43L148.30 71.19L148.50 62.42L148.70 67.88L148.90 59.52L149.10 65.16L149.30 56.73L149.50 62.04L149.70 53.78L149.90 58.84L150.10 51.06L150.30 55.71L150.50 48.32L150.70 52.39L150.90 45.38L151.10 49.58L151.30 42.65L151.50 46.65L151.70 40.37L151.90 43.57L152.10 37.55L152.30 40.71L152.50 36.96L152.70 42.10L152.90 38.26L153.10 43.30L153.30 39.33L153.50 44.69L153.70 40.60L153.90 46.68L154.10 42.13L154.30 49.17L154.50 44.06L154.70 51.27L154.90 44.99L155.10 53.02L155.30 45.38L155.50 53.06L155.70 45.78L155.90 53.56L156.10 46.29L156.30 54.34L156.50 46.56L156.70 54.39L156.90 46.84L157.10 55.56L157.30 46.53L157.50 55.50L157.70 46.72L157.90 55.50L158.10 47.46L158.30 55.96L158.50 47.34L158.70 55.29L158.90 46.98L159.10 55.77L159.30 47.13L159.50 55.68L159.70 46.73L159.90 55.26L160.10 47.07L160.30 55.59L160.50 46.53L160.70 55.38L160.90 46.36L161.10 54.89L161.30 46.39L161.50 54.90L161.70 46.41L161.90 54.78L162.10 46.48L162.30 55.35L162.50 46.93L162.70 55.52L162.90 47.20L163.10 55.62L163.30 46.91L163.50 55.77L163.70 46.79L163.90 55.84L164.10 47.02L164.30 55.90L164.50 46.74L164.70 56.03L164.90 46.89L165.10 55.49L165.30 46.87L165.50 55.76L165.70 46.88L165.90 55.32L166.10 46.15L166.30 55.41L166.50 46.45L166.70 54.76L166.90 46.73L167.10 54.98L167.30 46.13L167.50 55.07L167.70 46.52L167.90 55.77L168.10 46.80L168.30 55.36L168.50 47.13L168.70 55.61L168.90 46.66L169.10 55.44L169.30 46.63L169.50 55.88L169.70 46.87L169.90 55.91L170.10 47.17L170.30 55.22L170.50 46.55L170.70 55.68L170.90 46.61L171.10 55.68L171.30 46.16L171.50 55.11L171.70 46.84L171.90 55.22L172.10 46.53L172.30 54.89L172.50 46.26L172.70 55.17L172.90 46.35L173.10 55.28L173.30 47.01L173.50 55.74L173.70 46.86L173.90 55.97L174.10 46.88L174.30 55.72L174.50 47.29L174.70 56.03L174.90 47.30L175.10 55.83L175.30 46.98L175.50 55.90L175.70 47.01L175.90 55.63L176.10 46.48L176.30 55.79L176.50 46.57L176.70 55.47L176.90 46.65L177.10 55.50L177.30 46.64L177.50 55.19L177.70 46.55L177.90 54.91L178.10 46.75L178.30 55.71L178.50 46.65L178.70 55.98L178.90 47.08L179.10 55.86L179.30 46.58L179.50 55.92L179.70 47.33L179.90 55.87L180.10 47.25L180.30 55.94L180.50 47.14L180.70 55.44L180.90 47.20L181.10 55.28L181.30 46.65L181.50 55.19L181.70 46.69L181.90 55.67L182.10 46.65" stroke="#ff00ff" stroke-width="2.4" stroke-dasharray="1.3 0.8"/>
<path d="M163.70 54.23V57.90M165.30 53.98V58.11M179.70 48.46V45.19" stroke="#ff00ff" stroke-width="1.1"/>
</g>
<rect x="549.5" y="381" width="160.5" height="88" fill="#fff"/>
<path d="M88.55 472.80v-4.5M88.55 20.75v4.5M151.75 472.80v-4.5M151.75 20.75v4.5M214.96 472.80v-4.5M214.96 20.75v4.5M278.17 472.80v-4.5M278.17 20.75v4.5M341.37 472.80v-4.5M341.37 20.75v4.5M404.58 472.80v-4.5M404.58 20.75v4.5M467.78 472.80v-4.5M467.78 20.75v4.5M530.99 472.80v-4.5M530.99 20.75v4.5M594.19 472.80v-4.5M594.19 20.75v4.5M657.40 472.80v-4.5M657.40 20.75v4.5M720.60 472.80v-4.5M720.60 20.75v4.5M88.55 20.75h4.5M720.60 20.75h-4.5M88.55 96.30h4.5M720.60 96.30h-4.5M88.55 171.50h4.5M720.60 171.50h-4.5M88.55 246.50h4.5M720.60 246.50h-4.5M88.55 322.40h4.5M720.60 322.40h-4.5M88.55 397.50h4.5M720.60 397.50h-4.5M88.55 472.80h4.5M720.60 472.80h-4.5" stroke="#000" stroke-width="1.1" fill="none" opacity="0.85"/>
<path d="M88.55 20.15V473.50M720.60 20.15V473.50" fill="none" stroke="#000" stroke-width="1.25"/>
<path d="M87.95 20.75H721.20" fill="none" stroke="#000" stroke-width="1.4" opacity="0.82"/>
<path d="M87.95 472.80H721.20" fill="none" stroke="#000" stroke-width="1.6" opacity="0.68"/>
<g fill="none" stroke-width="2.2">
<path d="M653.2 390.3H699.3" stroke="#00ffff" stroke-dasharray="4 1 1 1"/>
<path d="M653.2 407.8H700" stroke="#ff0000" stroke-width="2.2"/>
<path d="M653.2 425.2H700" stroke="#00ff00" stroke-dasharray="3 1.2"/>
<path d="M653.2 442.6H700" stroke="#0000ff" stroke-width="1.7" stroke-dasharray="1.4 2.1"/>
<path d="M653.2 459.8H700" stroke="#ff00ff" stroke-width="1.8" stroke-dasharray="1.1 1.1" opacity="0.85"/>
</g>
<g font-family="Liberation Sans, sans-serif" font-size="17.5px" fill="#000">
<text x="90.8" y="496.3" text-anchor="middle">0</text>
<text x="154.1" y="496.3" text-anchor="middle">100</text>
<text x="217.3" y="496.3" text-anchor="middle">200</text>
<text x="280.5" y="496.3" text-anchor="middle">300</text>
<text x="343.7" y="496.3" text-anchor="middle">400</text>
<text x="406.9" y="496.3" text-anchor="middle">500</text>
<text x="470.1" y="496.3" text-anchor="middle">600</text>
<text x="533.3" y="496.3" text-anchor="middle">700</text>
<text x="596.5" y="496.3" text-anchor="middle">800</text>
<text x="659.7" y="496.3" text-anchor="middle">900</text>
<text x="722.9" y="496.3" text-anchor="middle">1000</text>
<text x="78.3" y="26.6" text-anchor="end">-0.5</text>
<text x="78.3" y="102.3" text-anchor="end">-1</text>
<text x="78.3" y="177.5" text-anchor="end">-1.5</text>
<text x="78.3" y="252.5" text-anchor="end">-2</text>
<text x="78.3" y="328.4" text-anchor="end">-2.5</text>
<text x="78.3" y="403.5" text-anchor="end">-3</text>
<text x="78.3" y="478.6" text-anchor="end">-3.5</text>
<text x="404.8" y="521.5" text-anchor="middle">Time [Binary Orbits]</text>
<text transform="translate(23,247) rotate(-90)" text-anchor="middle">log (Disk Eccentricity)</text>
<text x="643.6" y="395.6" text-anchor="end">Nu=3.3e-9</text>
<text x="643.6" y="413.1" text-anchor="end">Nu=3.3e-6</text>
<text x="643.6" y="430.6" text-anchor="end">Nu=1.0e-5</text>
<text x="643.6" y="447.9" text-anchor="end">Nu=3.3e-5</text>
<text x="643.6" y="465.0" text-anchor="end">Nu=1.0e-4</text>
<text x="158" y="33.8" fill="#ff00ff">1.0e-4</text>
<text x="284.3" y="49.3" fill="#0000ff">3.3e-5</text>
<text x="284.6" y="124.6" fill="#00ff00">1.0e-5</text>
<text x="537.3" y="87.2" fill="#ff0000">3.3e-6</text>
<text x="537" y="244.6" fill="#00ffff">3.3e-9</text>
</g>
</svg>
</body></html>
